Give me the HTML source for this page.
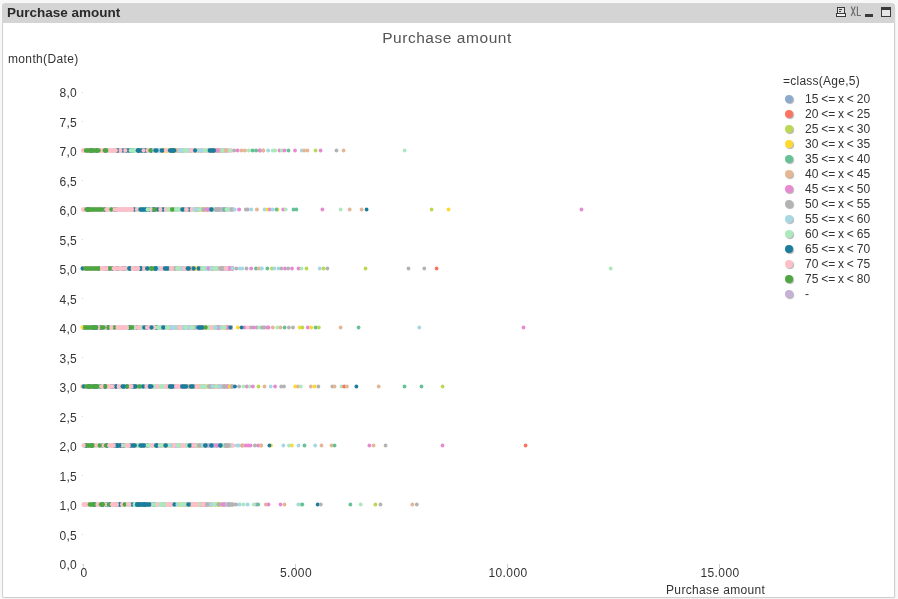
<!DOCTYPE html>
<html><head><meta charset="utf-8"><title>Purchase amount</title>
<style>
html,body{margin:0;padding:0;}
body{width:898px;height:599px;overflow:hidden;background:#f8f8f8;font-family:"Liberation Sans",sans-serif;position:relative;color:#333;}
#frame{position:absolute;left:2px;top:3px;width:891px;height:594px;background:#fff;border:1px solid #d0d0d0;border-top:none;border-radius:4px 4px 2px 2px;box-shadow:1px 1px 1px rgba(0,0,0,0.03);}
#cap{position:absolute;left:2px;top:3px;width:893px;height:20px;background:#d4d4d4;border-radius:4px 4px 0 0;}
#cap .t{position:absolute;left:4.8px;top:1.6px;font-size:13.5px;font-weight:bold;color:#2a2a2a;line-height:16px;white-space:nowrap;}
.lbl,#ttl,#cap .t{will-change:transform;}
.lbl{position:absolute;font-size:12px;line-height:15px;white-space:nowrap;color:#333;}
.yl{width:40px;text-align:right;left:37px;letter-spacing:0.3px;}
.xl{width:60px;text-align:center;letter-spacing:0.4px;}
.tk{position:absolute;width:1px;height:1px;background:#d4d4d4;}
.tkx{position:absolute;width:1px;height:4px;background:#d0d0d0;}
.ld{position:absolute;left:785.3px;width:8px;height:8px;border-radius:50%;box-shadow:1px 1px 1px rgba(0,0,0,0.3);}
#ttl{position:absolute;left:0;width:894px;top:28.5px;text-align:center;font-size:15.5px;letter-spacing:0.55px;line-height:18px;color:#555;}
svg{position:absolute;left:0;top:0;}
</style></head><body>
<div id="frame"></div>
<div id="cap"><div class="t">Purchase amount</div>
<svg width="893" height="20" viewBox="2 3 893 20">
<rect x="837.5" y="7.5" width="7" height="6" fill="#e2e2e2" stroke="#3a3a3a" stroke-width="1"/>
<rect x="839" y="9" width="3" height="1" fill="#3a3a3a"/><rect x="839" y="11" width="2" height="1" fill="#3a3a3a"/>
<rect x="836.5" y="13.5" width="9" height="3" fill="#f2f2f2" stroke="#3a3a3a" stroke-width="1"/>
<path d="M851.2 6.6 L855.2 16 M855.2 6.6 L851.2 16 M857.4 6.5 V15.5 H861" fill="none" stroke="#6e6e6e" stroke-width="1.15"/>
<rect x="865" y="14" width="8" height="3" fill="#3a3a3a"/>
<rect x="881.5" y="7.5" width="9" height="9" fill="#e6e6e6" stroke="#3a3a3a" stroke-width="1"/>
<rect x="881" y="7" width="10" height="3" fill="#3a3a3a"/>
</svg>
</div>
<div id="ttl">Purchase amount</div>
<div class="lbl" style="left:8px;top:52px;letter-spacing:0.35px;">month(Date)</div>
<div class="lbl" style="left:783px;top:74px;letter-spacing:0.25px;">=class(Age,5)</div>
<div class="lbl" style="left:665.5px;top:582.5px;letter-spacing:0.35px;">Purchase amount</div>
<div class="lbl yl" style="top:558.0px;">0,0</div><div class="tk" style="left:82px;top:564px;"></div><div class="lbl yl" style="top:528.5px;">0,5</div><div class="tk" style="left:82px;top:534px;"></div><div class="lbl yl" style="top:499.0px;">1,0</div><div class="tk" style="left:82px;top:505px;"></div><div class="lbl yl" style="top:469.5px;">1,5</div><div class="tk" style="left:82px;top:475px;"></div><div class="lbl yl" style="top:440.0px;">2,0</div><div class="tk" style="left:82px;top:446px;"></div><div class="lbl yl" style="top:410.5px;">2,5</div><div class="tk" style="left:82px;top:416px;"></div><div class="lbl yl" style="top:381.0px;">3,0</div><div class="tk" style="left:82px;top:387px;"></div><div class="lbl yl" style="top:351.5px;">3,5</div><div class="tk" style="left:82px;top:357px;"></div><div class="lbl yl" style="top:322.0px;">4,0</div><div class="tk" style="left:82px;top:328px;"></div><div class="lbl yl" style="top:292.5px;">4,5</div><div class="tk" style="left:82px;top:298px;"></div><div class="lbl yl" style="top:263.0px;">5,0</div><div class="tk" style="left:82px;top:269px;"></div><div class="lbl yl" style="top:233.5px;">5,5</div><div class="tk" style="left:82px;top:239px;"></div><div class="lbl yl" style="top:204.0px;">6,0</div><div class="tk" style="left:82px;top:210px;"></div><div class="lbl yl" style="top:174.5px;">6,5</div><div class="tk" style="left:82px;top:180px;"></div><div class="lbl yl" style="top:145.0px;">7,0</div><div class="tk" style="left:82px;top:151px;"></div><div class="lbl yl" style="top:115.5px;">7,5</div><div class="tk" style="left:82px;top:121px;"></div><div class="lbl yl" style="top:86.0px;">8,0</div><div class="tk" style="left:82px;top:92px;"></div>
<div class="lbl xl" style="left:53.5px;top:566px;">0</div><div class="tkx" style="left:83px;top:564px;"></div><div class="lbl xl" style="left:265.5px;top:566px;">5.000</div><div class="tkx" style="left:295px;top:564px;"></div><div class="lbl xl" style="left:477.5px;top:566px;">10.000</div><div class="tkx" style="left:507px;top:564px;"></div><div class="lbl xl" style="left:689.5px;top:566px;">15.000</div><div class="tkx" style="left:719px;top:564px;"></div>
<div class="ld" style="top:95.3px;background:#8DAACB;"></div><div class="lbl" style="left:805px;top:92.0px;word-spacing:-0.5px;">15 <= x < 20</div><div class="ld" style="top:110.3px;background:#FC7362;"></div><div class="lbl" style="left:805px;top:107.0px;word-spacing:-0.5px;">20 <= x < 25</div><div class="ld" style="top:125.3px;background:#BBD854;"></div><div class="lbl" style="left:805px;top:122.0px;word-spacing:-0.5px;">25 <= x < 30</div><div class="ld" style="top:140.3px;background:#FFD92F;"></div><div class="lbl" style="left:805px;top:137.0px;word-spacing:-0.5px;">30 <= x < 35</div><div class="ld" style="top:155.3px;background:#66C296;"></div><div class="lbl" style="left:805px;top:152.0px;word-spacing:-0.5px;">35 <= x < 40</div><div class="ld" style="top:170.3px;background:#E5B694;"></div><div class="lbl" style="left:805px;top:167.0px;word-spacing:-0.5px;">40 <= x < 45</div><div class="ld" style="top:185.3px;background:#E78AD2;"></div><div class="lbl" style="left:805px;top:182.0px;word-spacing:-0.5px;">45 <= x < 50</div><div class="ld" style="top:200.3px;background:#B3B3B3;"></div><div class="lbl" style="left:805px;top:197.0px;word-spacing:-0.5px;">50 <= x < 55</div><div class="ld" style="top:215.3px;background:#A6D8E3;"></div><div class="lbl" style="left:805px;top:212.0px;word-spacing:-0.5px;">55 <= x < 60</div><div class="ld" style="top:230.3px;background:#ABE9BC;"></div><div class="lbl" style="left:805px;top:227.0px;word-spacing:-0.5px;">60 <= x < 65</div><div class="ld" style="top:245.3px;background:#1B7D9C;"></div><div class="lbl" style="left:805px;top:242.0px;word-spacing:-0.5px;">65 <= x < 70</div><div class="ld" style="top:260.3px;background:#FFBFC9;"></div><div class="lbl" style="left:805px;top:257.0px;word-spacing:-0.5px;">70 <= x < 75</div><div class="ld" style="top:275.3px;background:#4DA741;"></div><div class="lbl" style="left:805px;top:272.0px;word-spacing:-0.5px;">75 <= x < 80</div><div class="ld" style="top:290.3px;background:#C5B2D6;"></div><div class="lbl" style="left:805px;top:287.0px;word-spacing:-0.5px;">-</div>
<svg id="ch" width="898" height="599" viewBox="0 0 898 599">
<g>
<rect x="82.6" y="148.20" width="2.3" height="4.6" fill="#FFBFC9"/>
<rect x="84.6" y="148.20" width="2.3" height="4.6" fill="#FFBFC9"/>
<rect x="86.6" y="148.20" width="1.8" height="4.6" fill="#FFBFC9"/>
<rect x="88.1" y="148.20" width="2.3" height="4.6" fill="#FFBFC9"/>
<rect x="90.1" y="148.20" width="2.8" height="4.6" fill="#1B7D9C"/>
<rect x="92.6" y="148.20" width="1.8" height="4.6" fill="#FFBFC9"/>
<rect x="94.1" y="148.20" width="2.3" height="4.6" fill="#FFBFC9"/>
<rect x="96.1" y="148.20" width="1.8" height="4.6" fill="#1B7D9C"/>
<rect x="97.6" y="148.20" width="1.8" height="4.6" fill="#FFBFC9"/>
<rect x="99.1" y="148.20" width="1.8" height="4.6" fill="#FFBFC9"/>
<rect x="100.6" y="148.20" width="1.8" height="4.6" fill="#FFBFC9"/>
<rect x="102.1" y="148.20" width="2.8" height="4.6" fill="#FFBFC9"/>
<rect x="104.6" y="148.20" width="1.8" height="4.6" fill="#1B7D9C"/>
<rect x="106.1" y="148.20" width="1.8" height="4.6" fill="#FFBFC9"/>
<rect x="107.6" y="148.20" width="2.3" height="4.6" fill="#FFBFC9"/>
<rect x="109.6" y="148.20" width="1.8" height="4.6" fill="#FFBFC9"/>
<rect x="111.1" y="148.20" width="2.8" height="4.6" fill="#ABE9BC"/>
<rect x="113.6" y="148.20" width="2.8" height="4.6" fill="#FFBFC9"/>
<rect x="116.1" y="148.20" width="1.8" height="4.6" fill="#1B7D9C"/>
<rect x="117.6" y="148.20" width="2.3" height="4.6" fill="#FFBFC9"/>
<rect x="119.6" y="148.20" width="2.8" height="4.6" fill="#FFBFC9"/>
<rect x="122.1" y="148.20" width="2.8" height="4.6" fill="#FFBFC9"/>
<rect x="124.6" y="148.20" width="2.8" height="4.6" fill="#1B7D9C"/>
<rect x="127.1" y="148.20" width="2.3" height="4.6" fill="#FFBFC9"/>
<rect x="129.1" y="148.20" width="2.3" height="4.6" fill="#1B7D9C"/>
<rect x="131.1" y="148.20" width="2.8" height="4.6" fill="#1B7D9C"/>
<rect x="133.6" y="148.20" width="2.3" height="4.6" fill="#ABE9BC"/>
<rect x="135.6" y="148.20" width="1.8" height="4.6" fill="#FFBFC9"/>
<rect x="137.1" y="148.20" width="2.8" height="4.6" fill="#1B7D9C"/>
<rect x="139.6" y="148.20" width="1.8" height="4.6" fill="#ABE9BC"/>
<rect x="141.1" y="148.20" width="2.8" height="4.6" fill="#1B7D9C"/>
<rect x="143.6" y="148.20" width="2.3" height="4.6" fill="#1B7D9C"/>
<rect x="145.6" y="148.20" width="2.3" height="4.6" fill="#FFBFC9"/>
<rect x="147.6" y="148.20" width="1.8" height="4.6" fill="#FFBFC9"/>
<rect x="149.1" y="148.20" width="1.8" height="4.6" fill="#A6D8E3"/>
<rect x="150.6" y="148.20" width="1.8" height="4.6" fill="#1B7D9C"/>
<rect x="152.1" y="148.20" width="2.3" height="4.6" fill="#FFBFC9"/>
<rect x="154.1" y="148.20" width="2.8" height="4.6" fill="#FFBFC9"/>
<rect x="156.6" y="148.20" width="2.8" height="4.6" fill="#A6D8E3"/>
<rect x="159.1" y="148.20" width="2.3" height="4.6" fill="#C5B2D6"/>
<rect x="161.1" y="148.20" width="2.8" height="4.6" fill="#FFD92F"/>
<rect x="163.6" y="148.20" width="2.8" height="4.6" fill="#FFD92F"/>
<rect x="166.1" y="148.20" width="1.8" height="4.6" fill="#ABE9BC"/>
<rect x="167.6" y="148.20" width="2.3" height="4.6" fill="#FFD92F"/>
<rect x="169.6" y="148.20" width="2.8" height="4.6" fill="#ABE9BC"/>
<rect x="172.1" y="148.20" width="1.8" height="4.6" fill="#E5B694"/>
<rect x="173.6" y="148.20" width="2.8" height="4.6" fill="#FFD92F"/>
<rect x="176.1" y="148.20" width="2.3" height="4.6" fill="#FFBFC9"/>
<rect x="178.1" y="148.20" width="2.8" height="4.6" fill="#C5B2D6"/>
<rect x="180.6" y="148.20" width="1.8" height="4.6" fill="#FFD92F"/>
<rect x="182.1" y="148.20" width="2.3" height="4.6" fill="#B3B3B3"/>
<rect x="184.1" y="148.20" width="2.8" height="4.6" fill="#ABE9BC"/>
<rect x="186.6" y="148.20" width="2.3" height="4.6" fill="#A6D8E3"/>
<rect x="188.6" y="148.20" width="1.8" height="4.6" fill="#E5B694"/>
<rect x="190.1" y="148.20" width="1.8" height="4.6" fill="#E78AD2"/>
<rect x="191.6" y="148.20" width="2.3" height="4.6" fill="#FFBFC9"/>
<rect x="193.6" y="148.20" width="2.3" height="4.6" fill="#ABE9BC"/>
<rect x="195.6" y="148.20" width="1.8" height="4.6" fill="#FFD92F"/>
<rect x="197.1" y="148.20" width="2.3" height="4.6" fill="#E5B694"/>
<rect x="199.1" y="148.20" width="1.8" height="4.6" fill="#FFBFC9"/>
<rect x="200.6" y="148.20" width="2.8" height="4.6" fill="#E5B694"/>
<rect x="203.1" y="148.20" width="2.8" height="4.6" fill="#FFBFC9"/>
<rect x="205.6" y="148.20" width="2.3" height="4.6" fill="#FFBFC9"/>
<rect x="207.6" y="148.20" width="1.8" height="4.6" fill="#B3B3B3"/>
<rect x="209.1" y="148.20" width="1.8" height="4.6" fill="#B3B3B3"/>
<rect x="210.6" y="148.20" width="1.8" height="4.6" fill="#E78AD2"/>
<rect x="212.1" y="148.20" width="2.8" height="4.6" fill="#E78AD2"/>
<rect x="214.6" y="148.20" width="1.8" height="4.6" fill="#FFD92F"/>
<rect x="216.1" y="148.20" width="2.8" height="4.6" fill="#B3B3B3"/>
<rect x="218.6" y="148.20" width="2.3" height="4.6" fill="#E5B694"/>
<rect x="220.6" y="148.20" width="1.8" height="4.6" fill="#B3B3B3"/>
<rect x="222.1" y="148.20" width="2.3" height="4.6" fill="#C5B2D6"/>
<rect x="224.1" y="148.20" width="2.8" height="4.6" fill="#C5B2D6"/>
<rect x="226.6" y="148.20" width="1.8" height="4.6" fill="#A6D8E3"/>
<rect x="228.1" y="148.20" width="2.3" height="4.6" fill="#FFBFC9"/>
<rect x="230.1" y="148.20" width="2.3" height="4.6" fill="#FFBFC9"/>
<rect x="80.8" y="148.35" width="4.0" height="4.3" rx="2.1" ry="2.15" fill="#FFBFC9"/>
<rect x="99.5" y="148.35" width="4.0" height="4.3" rx="2.1" ry="2.15" fill="#FFBFC9"/>
<rect x="116.2" y="148.35" width="4.0" height="4.3" rx="2.1" ry="2.15" fill="#1B7D9C"/>
<rect x="120.8" y="148.35" width="4.0" height="4.3" rx="2.1" ry="2.15" fill="#1B7D9C"/>
<rect x="126.2" y="148.35" width="4.0" height="4.3" rx="2.1" ry="2.15" fill="#1B7D9C"/>
<rect x="143.8" y="148.35" width="4.0" height="4.3" rx="2.1" ry="2.15" fill="#1B7D9C"/>
<rect x="145.6" y="148.35" width="4.0" height="4.3" rx="2.1" ry="2.15" fill="#FFBFC9"/>
<rect x="151.0" y="148.35" width="4.0" height="4.3" rx="2.1" ry="2.15" fill="#A6D8E3"/>
<rect x="157.1" y="148.35" width="4.0" height="4.3" rx="2.1" ry="2.15" fill="#A6D8E3"/>
<rect x="175.0" y="148.35" width="4.0" height="4.3" rx="2.1" ry="2.15" fill="#ABE9BC"/>
<rect x="174.8" y="148.35" width="4.0" height="4.3" rx="2.1" ry="2.15" fill="#E5B694"/>
<rect x="186.8" y="148.35" width="4.0" height="4.3" rx="2.1" ry="2.15" fill="#A6D8E3"/>
<rect x="195.8" y="148.35" width="4.0" height="4.3" rx="2.1" ry="2.15" fill="#A6D8E3"/>
<rect x="83.7" y="148.35" width="17.0" height="4.3" rx="2.1" ry="2.15" fill="#4DA741"/>
<rect x="102.6" y="148.35" width="6.1" height="4.3" rx="2.1" ry="2.15" fill="#4DA741"/>
<rect x="108.2" y="148.35" width="9.7" height="4.3" rx="2.1" ry="2.15" fill="#FFBFC9"/>
<rect x="118.5" y="148.35" width="4.0" height="4.3" rx="2.1" ry="2.15" fill="#FFBFC9"/>
<rect x="123.2" y="148.35" width="4.2" height="4.3" rx="2.1" ry="2.15" fill="#FFBFC9"/>
<rect x="128.6" y="148.35" width="7.8" height="4.3" rx="2.1" ry="2.15" fill="#ABE9BC"/>
<rect x="135.6" y="148.35" width="6.8" height="4.3" rx="2.1" ry="2.15" fill="#1B7D9C"/>
<rect x="141.5" y="148.35" width="4.0" height="4.3" rx="2.1" ry="2.15" fill="#FFBFC9"/>
<rect x="148.3" y="148.35" width="4.4" height="4.3" rx="2.1" ry="2.15" fill="#4DA741"/>
<rect x="153.3" y="148.35" width="5.3" height="4.3" rx="2.1" ry="2.15" fill="#1B7D9C"/>
<rect x="159.6" y="148.35" width="5.1" height="4.3" rx="2.1" ry="2.15" fill="#1B7D9C"/>
<rect x="163.9" y="148.35" width="4.7" height="4.3" rx="2.1" ry="2.15" fill="#FFBFC9"/>
<rect x="167.8" y="148.35" width="8.6" height="4.3" rx="2.1" ry="2.15" fill="#1B7D9C"/>
<rect x="169.6" y="148.35" width="6.3" height="4.3" rx="2.1" ry="2.15" fill="#1B7D9C"/>
<rect x="177.6" y="148.35" width="5.8" height="4.3" rx="2.1" ry="2.15" fill="#A6D8E3"/>
<rect x="182.6" y="148.35" width="5.8" height="4.3" rx="2.1" ry="2.15" fill="#ABE9BC"/>
<rect x="189.1" y="148.35" width="4.7" height="4.3" rx="2.1" ry="2.15" fill="#FFBFC9"/>
<rect x="193.0" y="148.35" width="4.1" height="4.3" rx="2.1" ry="2.15" fill="#1B7D9C"/>
<rect x="198.6" y="148.35" width="5.2" height="4.3" rx="2.1" ry="2.15" fill="#A6D8E3"/>
<rect x="203.0" y="148.35" width="5.4" height="4.3" rx="2.1" ry="2.15" fill="#ABE9BC"/>
<rect x="207.6" y="148.35" width="8.8" height="4.3" rx="2.1" ry="2.15" fill="#1B7D9C"/>
<rect x="215.6" y="148.35" width="4.1" height="4.3" rx="2.1" ry="2.15" fill="#E78AD2"/>
<rect x="220.3" y="148.35" width="4.6" height="4.3" rx="2.1" ry="2.15" fill="#ABE9BC"/>
<rect x="224.1" y="148.35" width="4.3" height="4.3" rx="2.1" ry="2.15" fill="#E5B694"/>
<circle cx="230.2" cy="150.5" r="2.0" fill="#ABE9BC"/>
<circle cx="234.1" cy="150.5" r="2.0" fill="#B3B3B3"/>
<circle cx="237.6" cy="150.5" r="2.0" fill="#E78AD2"/>
<circle cx="241.5" cy="150.5" r="2.0" fill="#E5B694"/>
<circle cx="244.9" cy="150.5" r="2.0" fill="#E5B694"/>
<circle cx="248.8" cy="150.5" r="2.0" fill="#ABE9BC"/>
<circle cx="252.6" cy="150.5" r="2.0" fill="#66C296"/>
<circle cx="256.1" cy="150.5" r="2.0" fill="#66C296"/>
<circle cx="259.6" cy="150.5" r="2.0" fill="#E78AD2"/>
<circle cx="263.2" cy="150.5" r="2.0" fill="#E5B694"/>
<circle cx="268.2" cy="150.5" r="2.0" fill="#A6D8E3"/>
<circle cx="272.9" cy="150.5" r="2.0" fill="#ABE9BC"/>
<circle cx="275.1" cy="150.5" r="2.0" fill="#ABE9BC"/>
<circle cx="260.0" cy="150.5" r="1.9" fill="#E78AD2"/>
<circle cx="263.2" cy="150.5" r="1.9" fill="#E5B694"/>
<circle cx="279.5" cy="150.5" r="1.9" fill="#E78AD2"/>
<circle cx="281.7" cy="150.5" r="1.9" fill="#ABE9BC"/>
<circle cx="284.5" cy="150.5" r="1.9" fill="#E78AD2"/>
<circle cx="288.5" cy="150.5" r="1.9" fill="#66C296"/>
<circle cx="295.0" cy="150.5" r="1.9" fill="#E78AD2"/>
<circle cx="301.7" cy="150.5" r="1.9" fill="#A6D8E3"/>
<circle cx="304.2" cy="150.5" r="1.9" fill="#E5B694"/>
<circle cx="307.4" cy="150.5" r="1.9" fill="#E5B694"/>
<circle cx="315.6" cy="150.5" r="1.9" fill="#BBD854"/>
<circle cx="320.6" cy="150.5" r="1.9" fill="#E78AD2"/>
<circle cx="336.5" cy="150.5" r="1.9" fill="#B3B3B3"/>
<circle cx="343.6" cy="150.5" r="1.9" fill="#E5B694"/>
<circle cx="404.6" cy="150.5" r="1.9" fill="#ABE9BC"/>
</g>
<g>
<rect x="82.6" y="207.20" width="2.3" height="4.6" fill="#FFBFC9"/>
<rect x="84.6" y="207.20" width="2.3" height="4.6" fill="#FFBFC9"/>
<rect x="86.6" y="207.20" width="1.8" height="4.6" fill="#1B7D9C"/>
<rect x="88.1" y="207.20" width="1.8" height="4.6" fill="#1B7D9C"/>
<rect x="89.6" y="207.20" width="2.3" height="4.6" fill="#FFBFC9"/>
<rect x="91.6" y="207.20" width="1.8" height="4.6" fill="#A6D8E3"/>
<rect x="93.1" y="207.20" width="2.8" height="4.6" fill="#FFBFC9"/>
<rect x="95.6" y="207.20" width="1.8" height="4.6" fill="#FFBFC9"/>
<rect x="97.1" y="207.20" width="2.8" height="4.6" fill="#FFBFC9"/>
<rect x="99.6" y="207.20" width="2.8" height="4.6" fill="#FFBFC9"/>
<rect x="102.1" y="207.20" width="2.3" height="4.6" fill="#FFBFC9"/>
<rect x="104.1" y="207.20" width="1.8" height="4.6" fill="#1B7D9C"/>
<rect x="105.6" y="207.20" width="2.8" height="4.6" fill="#FFBFC9"/>
<rect x="108.1" y="207.20" width="1.8" height="4.6" fill="#ABE9BC"/>
<rect x="109.6" y="207.20" width="2.3" height="4.6" fill="#A6D8E3"/>
<rect x="111.6" y="207.20" width="2.3" height="4.6" fill="#FFBFC9"/>
<rect x="113.6" y="207.20" width="1.8" height="4.6" fill="#1B7D9C"/>
<rect x="115.1" y="207.20" width="2.3" height="4.6" fill="#1B7D9C"/>
<rect x="117.1" y="207.20" width="2.3" height="4.6" fill="#ABE9BC"/>
<rect x="119.1" y="207.20" width="1.8" height="4.6" fill="#FFBFC9"/>
<rect x="120.6" y="207.20" width="1.8" height="4.6" fill="#A6D8E3"/>
<rect x="122.1" y="207.20" width="2.8" height="4.6" fill="#ABE9BC"/>
<rect x="124.6" y="207.20" width="2.3" height="4.6" fill="#FFBFC9"/>
<rect x="126.6" y="207.20" width="2.8" height="4.6" fill="#FFBFC9"/>
<rect x="129.1" y="207.20" width="1.8" height="4.6" fill="#A6D8E3"/>
<rect x="130.6" y="207.20" width="1.8" height="4.6" fill="#FFBFC9"/>
<rect x="132.1" y="207.20" width="2.8" height="4.6" fill="#ABE9BC"/>
<rect x="134.6" y="207.20" width="2.8" height="4.6" fill="#FFBFC9"/>
<rect x="137.1" y="207.20" width="2.8" height="4.6" fill="#ABE9BC"/>
<rect x="139.6" y="207.20" width="2.8" height="4.6" fill="#A6D8E3"/>
<rect x="142.1" y="207.20" width="1.8" height="4.6" fill="#A6D8E3"/>
<rect x="143.6" y="207.20" width="1.8" height="4.6" fill="#A6D8E3"/>
<rect x="145.1" y="207.20" width="2.8" height="4.6" fill="#1B7D9C"/>
<rect x="147.6" y="207.20" width="2.8" height="4.6" fill="#1B7D9C"/>
<rect x="150.1" y="207.20" width="1.8" height="4.6" fill="#FFBFC9"/>
<rect x="151.6" y="207.20" width="2.8" height="4.6" fill="#1B7D9C"/>
<rect x="154.1" y="207.20" width="1.8" height="4.6" fill="#1B7D9C"/>
<rect x="155.6" y="207.20" width="2.3" height="4.6" fill="#FFBFC9"/>
<rect x="157.6" y="207.20" width="1.8" height="4.6" fill="#E5B694"/>
<rect x="159.1" y="207.20" width="2.3" height="4.6" fill="#E5B694"/>
<rect x="161.1" y="207.20" width="1.8" height="4.6" fill="#C5B2D6"/>
<rect x="162.6" y="207.20" width="2.3" height="4.6" fill="#C5B2D6"/>
<rect x="164.6" y="207.20" width="2.3" height="4.6" fill="#ABE9BC"/>
<rect x="166.6" y="207.20" width="1.8" height="4.6" fill="#ABE9BC"/>
<rect x="168.1" y="207.20" width="1.8" height="4.6" fill="#FFD92F"/>
<rect x="169.6" y="207.20" width="1.8" height="4.6" fill="#C5B2D6"/>
<rect x="171.1" y="207.20" width="1.8" height="4.6" fill="#FFD92F"/>
<rect x="172.6" y="207.20" width="2.8" height="4.6" fill="#A6D8E3"/>
<rect x="175.1" y="207.20" width="2.3" height="4.6" fill="#C5B2D6"/>
<rect x="177.1" y="207.20" width="2.8" height="4.6" fill="#ABE9BC"/>
<rect x="179.6" y="207.20" width="2.8" height="4.6" fill="#ABE9BC"/>
<rect x="182.1" y="207.20" width="2.3" height="4.6" fill="#E78AD2"/>
<rect x="184.1" y="207.20" width="2.3" height="4.6" fill="#B3B3B3"/>
<rect x="186.1" y="207.20" width="2.3" height="4.6" fill="#C5B2D6"/>
<rect x="188.1" y="207.20" width="1.8" height="4.6" fill="#FFBFC9"/>
<rect x="189.6" y="207.20" width="2.3" height="4.6" fill="#FFBFC9"/>
<rect x="191.6" y="207.20" width="2.8" height="4.6" fill="#ABE9BC"/>
<rect x="194.1" y="207.20" width="2.8" height="4.6" fill="#B3B3B3"/>
<rect x="196.6" y="207.20" width="1.8" height="4.6" fill="#B3B3B3"/>
<rect x="198.1" y="207.20" width="1.8" height="4.6" fill="#B3B3B3"/>
<rect x="199.6" y="207.20" width="2.8" height="4.6" fill="#FFD92F"/>
<rect x="202.1" y="207.20" width="2.8" height="4.6" fill="#B3B3B3"/>
<rect x="204.6" y="207.20" width="2.8" height="4.6" fill="#FFD92F"/>
<rect x="207.1" y="207.20" width="2.8" height="4.6" fill="#C5B2D6"/>
<rect x="209.6" y="207.20" width="1.8" height="4.6" fill="#B3B3B3"/>
<rect x="211.1" y="207.20" width="1.8" height="4.6" fill="#A6D8E3"/>
<rect x="212.6" y="207.20" width="2.8" height="4.6" fill="#ABE9BC"/>
<rect x="215.1" y="207.20" width="2.8" height="4.6" fill="#B3B3B3"/>
<rect x="217.6" y="207.20" width="2.3" height="4.6" fill="#E78AD2"/>
<rect x="219.6" y="207.20" width="1.8" height="4.6" fill="#A6D8E3"/>
<rect x="221.1" y="207.20" width="2.3" height="4.6" fill="#E78AD2"/>
<rect x="223.1" y="207.20" width="2.3" height="4.6" fill="#E78AD2"/>
<rect x="225.1" y="207.20" width="2.8" height="4.6" fill="#C5B2D6"/>
<rect x="227.6" y="207.20" width="2.3" height="4.6" fill="#FFBFC9"/>
<rect x="229.6" y="207.20" width="1.8" height="4.6" fill="#A6D8E3"/>
<rect x="231.1" y="207.20" width="2.8" height="4.6" fill="#C5B2D6"/>
<rect x="132.5" y="207.35" width="4.0" height="4.3" rx="2.1" ry="2.15" fill="#1B7D9C"/>
<rect x="149.2" y="207.35" width="4.0" height="4.3" rx="2.1" ry="2.15" fill="#FFBFC9"/>
<rect x="155.6" y="207.35" width="4.0" height="4.3" rx="2.1" ry="2.15" fill="#1B7D9C"/>
<rect x="161.2" y="207.35" width="4.0" height="4.3" rx="2.1" ry="2.15" fill="#1B7D9C"/>
<rect x="163.7" y="207.35" width="4.0" height="4.3" rx="2.1" ry="2.15" fill="#FFBFC9"/>
<rect x="187.2" y="207.35" width="4.0" height="4.3" rx="2.1" ry="2.15" fill="#1B7D9C"/>
<rect x="220.1" y="207.35" width="4.0" height="4.3" rx="2.1" ry="2.15" fill="#C5B2D6"/>
<rect x="222.3" y="207.35" width="4.0" height="4.3" rx="2.1" ry="2.15" fill="#66C296"/>
<circle cx="231.0" cy="209.5" r="2.0" fill="#B3B3B3"/>
<rect x="80.9" y="207.35" width="4.2" height="4.3" rx="2.1" ry="2.15" fill="#FFBFC9"/>
<rect x="84.3" y="207.35" width="20.8" height="4.3" rx="2.1" ry="2.15" fill="#4DA741"/>
<rect x="104.3" y="207.35" width="5.8" height="4.3" rx="2.1" ry="2.15" fill="#FFBFC9"/>
<rect x="109.3" y="207.35" width="4.1" height="4.3" rx="2.1" ry="2.15" fill="#4DA741"/>
<rect x="112.6" y="207.35" width="21.5" height="4.3" rx="2.1" ry="2.15" fill="#FFBFC9"/>
<rect x="134.8" y="207.35" width="4.0" height="4.3" rx="2.1" ry="2.15" fill="#FFBFC9"/>
<rect x="138.3" y="207.35" width="8.1" height="4.3" rx="2.1" ry="2.15" fill="#1B7D9C"/>
<rect x="145.6" y="207.35" width="4.6" height="4.3" rx="2.1" ry="2.15" fill="#ABE9BC"/>
<rect x="152.2" y="207.35" width="4.7" height="4.3" rx="2.1" ry="2.15" fill="#4DA741"/>
<rect x="158.3" y="207.35" width="4.1" height="4.3" rx="2.1" ry="2.15" fill="#FFBFC9"/>
<rect x="166.6" y="207.35" width="4.2" height="4.3" rx="2.1" ry="2.15" fill="#ABE9BC"/>
<rect x="170.0" y="207.35" width="4.9" height="4.3" rx="2.1" ry="2.15" fill="#4DA741"/>
<rect x="174.1" y="207.35" width="6.9" height="4.3" rx="2.1" ry="2.15" fill="#ABE9BC"/>
<rect x="180.2" y="207.35" width="4.7" height="4.3" rx="2.1" ry="2.15" fill="#1B7D9C"/>
<rect x="184.1" y="207.35" width="4.7" height="4.3" rx="2.1" ry="2.15" fill="#FFBFC9"/>
<rect x="189.6" y="207.35" width="4.2" height="4.3" rx="2.1" ry="2.15" fill="#FFBFC9"/>
<rect x="193.0" y="207.35" width="5.2" height="4.3" rx="2.1" ry="2.15" fill="#A6D8E3"/>
<rect x="197.4" y="207.35" width="4.7" height="4.3" rx="2.1" ry="2.15" fill="#ABE9BC"/>
<rect x="201.3" y="207.35" width="4.1" height="4.3" rx="2.1" ry="2.15" fill="#B3B3B3"/>
<rect x="204.6" y="207.35" width="4.8" height="4.3" rx="2.1" ry="2.15" fill="#E78AD2"/>
<rect x="209.1" y="207.35" width="4.7" height="4.3" rx="2.1" ry="2.15" fill="#1B7D9C"/>
<rect x="213.6" y="207.35" width="7.5" height="4.3" rx="2.1" ry="2.15" fill="#B3B3B3"/>
<rect x="224.6" y="207.35" width="5.4" height="4.3" rx="2.1" ry="2.15" fill="#ABE9BC"/>
<circle cx="234.6" cy="209.5" r="2.0" fill="#A6D8E3"/>
<circle cx="239.1" cy="209.5" r="2.0" fill="#E78AD2"/>
<circle cx="245.9" cy="209.5" r="2.0" fill="#B3B3B3"/>
<circle cx="247.7" cy="209.5" r="2.0" fill="#B3B3B3"/>
<circle cx="251.3" cy="209.5" r="2.0" fill="#A6D8E3"/>
<circle cx="256.9" cy="209.5" r="2.0" fill="#E5B694"/>
<circle cx="264.5" cy="209.5" r="1.9" fill="#A6D8E3"/>
<circle cx="267.5" cy="209.5" r="1.9" fill="#FFD92F"/>
<circle cx="269.8" cy="209.5" r="1.9" fill="#E78AD2"/>
<circle cx="272.5" cy="209.5" r="1.9" fill="#A6D8E3"/>
<circle cx="277.5" cy="209.5" r="1.9" fill="#FFD92F"/>
<circle cx="276.4" cy="209.5" r="1.9" fill="#66C296"/>
<circle cx="283.2" cy="209.5" r="1.9" fill="#E78AD2"/>
<circle cx="285.7" cy="209.5" r="1.9" fill="#ABE9BC"/>
<circle cx="293.5" cy="209.5" r="1.9" fill="#66C296"/>
<circle cx="296.4" cy="209.5" r="1.9" fill="#66C296"/>
<circle cx="322.4" cy="209.5" r="1.9" fill="#E78AD2"/>
<circle cx="340.6" cy="209.5" r="1.9" fill="#ABE9BC"/>
<circle cx="349.7" cy="209.5" r="1.9" fill="#E5B694"/>
<circle cx="361.6" cy="209.5" r="1.9" fill="#E5B694"/>
<circle cx="366.6" cy="209.5" r="1.9" fill="#1B7D9C"/>
<circle cx="431.6" cy="209.5" r="1.9" fill="#BBD854"/>
<circle cx="448.5" cy="209.5" r="1.9" fill="#FFD92F"/>
<circle cx="581.5" cy="209.5" r="1.9" fill="#E78AD2"/>
</g>
<g>
<rect x="82.6" y="266.20" width="2.3" height="4.6" fill="#FFBFC9"/>
<rect x="84.6" y="266.20" width="2.8" height="4.6" fill="#FFBFC9"/>
<rect x="87.1" y="266.20" width="2.8" height="4.6" fill="#FFBFC9"/>
<rect x="89.6" y="266.20" width="2.8" height="4.6" fill="#FFBFC9"/>
<rect x="92.1" y="266.20" width="2.3" height="4.6" fill="#FFBFC9"/>
<rect x="94.1" y="266.20" width="2.8" height="4.6" fill="#FFBFC9"/>
<rect x="96.6" y="266.20" width="1.8" height="4.6" fill="#FFBFC9"/>
<rect x="98.1" y="266.20" width="1.8" height="4.6" fill="#1B7D9C"/>
<rect x="99.6" y="266.20" width="2.8" height="4.6" fill="#FFBFC9"/>
<rect x="102.1" y="266.20" width="2.8" height="4.6" fill="#FFBFC9"/>
<rect x="104.6" y="266.20" width="2.3" height="4.6" fill="#1B7D9C"/>
<rect x="106.6" y="266.20" width="1.8" height="4.6" fill="#FFBFC9"/>
<rect x="108.1" y="266.20" width="1.8" height="4.6" fill="#1B7D9C"/>
<rect x="109.6" y="266.20" width="2.3" height="4.6" fill="#FFBFC9"/>
<rect x="111.6" y="266.20" width="1.8" height="4.6" fill="#1B7D9C"/>
<rect x="113.1" y="266.20" width="2.8" height="4.6" fill="#FFBFC9"/>
<rect x="115.6" y="266.20" width="1.8" height="4.6" fill="#1B7D9C"/>
<rect x="117.1" y="266.20" width="2.3" height="4.6" fill="#1B7D9C"/>
<rect x="119.1" y="266.20" width="2.8" height="4.6" fill="#ABE9BC"/>
<rect x="121.6" y="266.20" width="2.3" height="4.6" fill="#1B7D9C"/>
<rect x="123.6" y="266.20" width="2.8" height="4.6" fill="#1B7D9C"/>
<rect x="126.1" y="266.20" width="2.8" height="4.6" fill="#ABE9BC"/>
<rect x="128.6" y="266.20" width="2.8" height="4.6" fill="#1B7D9C"/>
<rect x="131.1" y="266.20" width="2.3" height="4.6" fill="#FFBFC9"/>
<rect x="133.1" y="266.20" width="2.3" height="4.6" fill="#FFBFC9"/>
<rect x="135.1" y="266.20" width="2.3" height="4.6" fill="#1B7D9C"/>
<rect x="137.1" y="266.20" width="2.3" height="4.6" fill="#FFBFC9"/>
<rect x="139.1" y="266.20" width="2.8" height="4.6" fill="#1B7D9C"/>
<rect x="141.6" y="266.20" width="2.3" height="4.6" fill="#FFBFC9"/>
<rect x="143.6" y="266.20" width="1.8" height="4.6" fill="#ABE9BC"/>
<rect x="145.1" y="266.20" width="1.8" height="4.6" fill="#FFBFC9"/>
<rect x="146.6" y="266.20" width="2.8" height="4.6" fill="#A6D8E3"/>
<rect x="149.1" y="266.20" width="1.8" height="4.6" fill="#ABE9BC"/>
<rect x="150.6" y="266.20" width="1.8" height="4.6" fill="#1B7D9C"/>
<rect x="152.1" y="266.20" width="1.8" height="4.6" fill="#FFBFC9"/>
<rect x="153.6" y="266.20" width="2.3" height="4.6" fill="#1B7D9C"/>
<rect x="155.6" y="266.20" width="1.8" height="4.6" fill="#1B7D9C"/>
<rect x="157.1" y="266.20" width="1.8" height="4.6" fill="#FFBFC9"/>
<rect x="158.6" y="266.20" width="2.8" height="4.6" fill="#FFBFC9"/>
<rect x="161.1" y="266.20" width="2.3" height="4.6" fill="#FFBFC9"/>
<rect x="163.1" y="266.20" width="1.8" height="4.6" fill="#C5B2D6"/>
<rect x="164.6" y="266.20" width="2.3" height="4.6" fill="#ABE9BC"/>
<rect x="166.6" y="266.20" width="2.8" height="4.6" fill="#C5B2D6"/>
<rect x="169.1" y="266.20" width="1.8" height="4.6" fill="#C5B2D6"/>
<rect x="170.6" y="266.20" width="2.8" height="4.6" fill="#FFD92F"/>
<rect x="173.1" y="266.20" width="2.3" height="4.6" fill="#A6D8E3"/>
<rect x="175.1" y="266.20" width="2.3" height="4.6" fill="#C5B2D6"/>
<rect x="177.1" y="266.20" width="2.8" height="4.6" fill="#E5B694"/>
<rect x="179.6" y="266.20" width="2.8" height="4.6" fill="#ABE9BC"/>
<rect x="182.1" y="266.20" width="1.8" height="4.6" fill="#E78AD2"/>
<rect x="183.6" y="266.20" width="1.8" height="4.6" fill="#ABE9BC"/>
<rect x="185.1" y="266.20" width="2.3" height="4.6" fill="#E5B694"/>
<rect x="187.1" y="266.20" width="1.8" height="4.6" fill="#B3B3B3"/>
<rect x="188.6" y="266.20" width="2.3" height="4.6" fill="#B3B3B3"/>
<rect x="190.6" y="266.20" width="2.3" height="4.6" fill="#E5B694"/>
<rect x="192.6" y="266.20" width="2.3" height="4.6" fill="#B3B3B3"/>
<rect x="194.6" y="266.20" width="2.8" height="4.6" fill="#FFD92F"/>
<rect x="197.1" y="266.20" width="2.8" height="4.6" fill="#C5B2D6"/>
<rect x="199.6" y="266.20" width="1.8" height="4.6" fill="#E5B694"/>
<rect x="201.1" y="266.20" width="1.8" height="4.6" fill="#B3B3B3"/>
<rect x="202.6" y="266.20" width="2.3" height="4.6" fill="#ABE9BC"/>
<rect x="204.6" y="266.20" width="2.3" height="4.6" fill="#A6D8E3"/>
<rect x="206.6" y="266.20" width="2.8" height="4.6" fill="#ABE9BC"/>
<rect x="209.1" y="266.20" width="2.3" height="4.6" fill="#ABE9BC"/>
<rect x="211.1" y="266.20" width="2.8" height="4.6" fill="#E78AD2"/>
<rect x="213.6" y="266.20" width="1.8" height="4.6" fill="#E5B694"/>
<rect x="215.1" y="266.20" width="1.8" height="4.6" fill="#FFD92F"/>
<rect x="216.6" y="266.20" width="1.8" height="4.6" fill="#C5B2D6"/>
<rect x="218.1" y="266.20" width="2.8" height="4.6" fill="#FFBFC9"/>
<rect x="220.6" y="266.20" width="2.3" height="4.6" fill="#B3B3B3"/>
<rect x="222.6" y="266.20" width="1.8" height="4.6" fill="#E78AD2"/>
<rect x="224.1" y="266.20" width="1.8" height="4.6" fill="#B3B3B3"/>
<rect x="225.6" y="266.20" width="2.3" height="4.6" fill="#A6D8E3"/>
<rect x="227.6" y="266.20" width="1.8" height="4.6" fill="#E78AD2"/>
<rect x="229.1" y="266.20" width="2.3" height="4.6" fill="#E5B694"/>
<rect x="231.1" y="266.20" width="2.8" height="4.6" fill="#E78AD2"/>
<rect x="80.5" y="266.35" width="4.0" height="4.3" rx="2.1" ry="2.15" fill="#1B7D9C"/>
<rect x="139.2" y="266.35" width="4.0" height="4.3" rx="2.1" ry="2.15" fill="#1B7D9C"/>
<rect x="142.0" y="266.35" width="4.0" height="4.3" rx="2.1" ry="2.15" fill="#FFBFC9"/>
<rect x="156.7" y="266.35" width="4.0" height="4.3" rx="2.1" ry="2.15" fill="#A6D8E3"/>
<rect x="172.6" y="266.35" width="4.0" height="4.3" rx="2.1" ry="2.15" fill="#B3B3B3"/>
<rect x="179.4" y="266.35" width="4.0" height="4.3" rx="2.1" ry="2.15" fill="#A6D8E3"/>
<rect x="204.2" y="266.35" width="4.0" height="4.3" rx="2.1" ry="2.15" fill="#A6D8E3"/>
<rect x="206.7" y="266.35" width="4.0" height="4.3" rx="2.1" ry="2.15" fill="#E78AD2"/>
<rect x="209.2" y="266.35" width="4.0" height="4.3" rx="2.1" ry="2.15" fill="#A6D8E3"/>
<rect x="227.3" y="266.35" width="4.0" height="4.3" rx="2.1" ry="2.15" fill="#E78AD2"/>
<circle cx="256.0" cy="268.5" r="2.0" fill="#66C296"/>
<circle cx="258.8" cy="268.5" r="2.0" fill="#E5B694"/>
<rect x="83.1" y="266.35" width="17.6" height="4.3" rx="2.1" ry="2.15" fill="#4DA741"/>
<rect x="99.9" y="266.35" width="9.1" height="4.3" rx="2.1" ry="2.15" fill="#FFBFC9"/>
<rect x="108.2" y="266.35" width="4.2" height="4.3" rx="2.1" ry="2.15" fill="#4DA741"/>
<rect x="111.6" y="266.35" width="16.3" height="4.3" rx="2.1" ry="2.15" fill="#FFBFC9"/>
<rect x="127.1" y="266.35" width="4.3" height="4.3" rx="2.1" ry="2.15" fill="#1B7D9C"/>
<rect x="130.6" y="266.35" width="9.6" height="4.3" rx="2.1" ry="2.15" fill="#FFBFC9"/>
<rect x="145.0" y="266.35" width="4.7" height="4.3" rx="2.1" ry="2.15" fill="#1B7D9C"/>
<rect x="148.9" y="266.35" width="5.8" height="4.3" rx="2.1" ry="2.15" fill="#4DA741"/>
<rect x="153.9" y="266.35" width="4.1" height="4.3" rx="2.1" ry="2.15" fill="#1B7D9C"/>
<rect x="159.4" y="266.35" width="4.2" height="4.3" rx="2.1" ry="2.15" fill="#FFBFC9"/>
<rect x="162.8" y="266.35" width="6.9" height="4.3" rx="2.1" ry="2.15" fill="#1B7D9C"/>
<rect x="168.9" y="266.35" width="5.0" height="4.3" rx="2.1" ry="2.15" fill="#FFBFC9"/>
<rect x="175.2" y="266.35" width="5.2" height="4.3" rx="2.1" ry="2.15" fill="#ABE9BC"/>
<rect x="182.4" y="266.35" width="4.0" height="4.3" rx="2.1" ry="2.15" fill="#FFBFC9"/>
<rect x="185.6" y="266.35" width="5.2" height="4.3" rx="2.1" ry="2.15" fill="#1B7D9C"/>
<rect x="191.6" y="266.35" width="4.2" height="4.3" rx="2.1" ry="2.15" fill="#1B7D9C"/>
<rect x="196.6" y="266.35" width="4.2" height="4.3" rx="2.1" ry="2.15" fill="#1B7D9C"/>
<rect x="200.2" y="266.35" width="5.2" height="4.3" rx="2.1" ry="2.15" fill="#ABE9BC"/>
<rect x="211.9" y="266.35" width="6.9" height="4.3" rx="2.1" ry="2.15" fill="#ABE9BC"/>
<rect x="218.0" y="266.35" width="6.4" height="4.3" rx="2.1" ry="2.15" fill="#B3B3B3"/>
<rect x="223.6" y="266.35" width="4.8" height="4.3" rx="2.1" ry="2.15" fill="#FFBFC9"/>
<circle cx="232.6" cy="268.5" r="2.0" fill="#A6D8E3"/>
<circle cx="236.3" cy="268.5" r="2.0" fill="#B3B3B3"/>
<circle cx="239.9" cy="268.5" r="2.0" fill="#A6D8E3"/>
<circle cx="242.1" cy="268.5" r="2.0" fill="#A6D8E3"/>
<circle cx="246.5" cy="268.5" r="2.0" fill="#B3B3B3"/>
<circle cx="251.2" cy="268.5" r="2.0" fill="#E78AD2"/>
<circle cx="261.9" cy="268.5" r="2.0" fill="#A6D8E3"/>
<circle cx="261.4" cy="268.5" r="1.9" fill="#A6D8E3"/>
<circle cx="267.3" cy="268.5" r="1.9" fill="#66C296"/>
<circle cx="272.0" cy="268.5" r="1.9" fill="#BBD854"/>
<circle cx="274.3" cy="268.5" r="1.9" fill="#A6D8E3"/>
<circle cx="278.4" cy="268.5" r="1.9" fill="#A6D8E3"/>
<circle cx="281.4" cy="268.5" r="1.9" fill="#B3B3B3"/>
<circle cx="285.0" cy="268.5" r="1.9" fill="#E78AD2"/>
<circle cx="288.2" cy="268.5" r="1.9" fill="#B3B3B3"/>
<circle cx="292.0" cy="268.5" r="1.9" fill="#E78AD2"/>
<circle cx="298.5" cy="268.5" r="1.9" fill="#E78AD2"/>
<circle cx="301.5" cy="268.5" r="1.9" fill="#ABE9BC"/>
<circle cx="306.5" cy="268.5" r="1.9" fill="#BBD854"/>
<circle cx="319.7" cy="268.5" r="1.9" fill="#A6D8E3"/>
<circle cx="323.5" cy="268.5" r="1.9" fill="#BBD854"/>
<circle cx="327.4" cy="268.5" r="1.9" fill="#B3B3B3"/>
<circle cx="365.5" cy="268.5" r="1.9" fill="#BBD854"/>
<circle cx="408.5" cy="268.5" r="1.9" fill="#B3B3B3"/>
<circle cx="424.3" cy="268.5" r="1.9" fill="#B3B3B3"/>
<circle cx="436.6" cy="268.5" r="1.9" fill="#FC7362"/>
<circle cx="610.7" cy="268.5" r="1.9" fill="#ABE9BC"/>
</g>
<g>
<rect x="82.6" y="325.20" width="2.3" height="4.6" fill="#1B7D9C"/>
<rect x="84.6" y="325.20" width="2.8" height="4.6" fill="#FFBFC9"/>
<rect x="87.1" y="325.20" width="2.3" height="4.6" fill="#A6D8E3"/>
<rect x="89.1" y="325.20" width="1.8" height="4.6" fill="#ABE9BC"/>
<rect x="90.6" y="325.20" width="1.8" height="4.6" fill="#FFBFC9"/>
<rect x="92.1" y="325.20" width="1.8" height="4.6" fill="#1B7D9C"/>
<rect x="93.6" y="325.20" width="2.8" height="4.6" fill="#1B7D9C"/>
<rect x="96.1" y="325.20" width="1.8" height="4.6" fill="#1B7D9C"/>
<rect x="97.6" y="325.20" width="1.8" height="4.6" fill="#FFBFC9"/>
<rect x="99.1" y="325.20" width="2.8" height="4.6" fill="#1B7D9C"/>
<rect x="101.6" y="325.20" width="2.8" height="4.6" fill="#FFBFC9"/>
<rect x="104.1" y="325.20" width="2.8" height="4.6" fill="#ABE9BC"/>
<rect x="106.6" y="325.20" width="2.8" height="4.6" fill="#1B7D9C"/>
<rect x="109.1" y="325.20" width="1.8" height="4.6" fill="#A6D8E3"/>
<rect x="110.6" y="325.20" width="1.8" height="4.6" fill="#FFBFC9"/>
<rect x="112.1" y="325.20" width="2.3" height="4.6" fill="#A6D8E3"/>
<rect x="114.1" y="325.20" width="1.8" height="4.6" fill="#FFBFC9"/>
<rect x="115.6" y="325.20" width="1.8" height="4.6" fill="#FFBFC9"/>
<rect x="117.1" y="325.20" width="2.8" height="4.6" fill="#ABE9BC"/>
<rect x="119.6" y="325.20" width="2.3" height="4.6" fill="#FFBFC9"/>
<rect x="121.6" y="325.20" width="1.8" height="4.6" fill="#FFBFC9"/>
<rect x="123.1" y="325.20" width="2.8" height="4.6" fill="#FFBFC9"/>
<rect x="125.6" y="325.20" width="2.8" height="4.6" fill="#ABE9BC"/>
<rect x="128.1" y="325.20" width="2.8" height="4.6" fill="#1B7D9C"/>
<rect x="130.6" y="325.20" width="2.8" height="4.6" fill="#ABE9BC"/>
<rect x="133.1" y="325.20" width="1.8" height="4.6" fill="#1B7D9C"/>
<rect x="134.6" y="325.20" width="1.8" height="4.6" fill="#FFBFC9"/>
<rect x="136.1" y="325.20" width="2.3" height="4.6" fill="#1B7D9C"/>
<rect x="138.1" y="325.20" width="1.8" height="4.6" fill="#ABE9BC"/>
<rect x="139.6" y="325.20" width="2.3" height="4.6" fill="#A6D8E3"/>
<rect x="141.6" y="325.20" width="2.8" height="4.6" fill="#A6D8E3"/>
<rect x="144.1" y="325.20" width="1.8" height="4.6" fill="#FFBFC9"/>
<rect x="145.6" y="325.20" width="2.3" height="4.6" fill="#1B7D9C"/>
<rect x="147.6" y="325.20" width="2.3" height="4.6" fill="#FFBFC9"/>
<rect x="149.6" y="325.20" width="1.8" height="4.6" fill="#A6D8E3"/>
<rect x="151.1" y="325.20" width="2.3" height="4.6" fill="#FFBFC9"/>
<rect x="153.1" y="325.20" width="2.3" height="4.6" fill="#ABE9BC"/>
<rect x="155.1" y="325.20" width="2.8" height="4.6" fill="#1B7D9C"/>
<rect x="157.6" y="325.20" width="1.8" height="4.6" fill="#A6D8E3"/>
<rect x="159.1" y="325.20" width="1.8" height="4.6" fill="#E5B694"/>
<rect x="160.6" y="325.20" width="1.8" height="4.6" fill="#B3B3B3"/>
<rect x="162.1" y="325.20" width="2.3" height="4.6" fill="#A6D8E3"/>
<rect x="164.1" y="325.20" width="2.3" height="4.6" fill="#A6D8E3"/>
<rect x="166.1" y="325.20" width="2.3" height="4.6" fill="#E5B694"/>
<rect x="168.1" y="325.20" width="2.8" height="4.6" fill="#E78AD2"/>
<rect x="170.6" y="325.20" width="1.8" height="4.6" fill="#B3B3B3"/>
<rect x="172.1" y="325.20" width="2.8" height="4.6" fill="#FFBFC9"/>
<rect x="174.6" y="325.20" width="2.3" height="4.6" fill="#FFD92F"/>
<rect x="176.6" y="325.20" width="1.8" height="4.6" fill="#E5B694"/>
<rect x="178.1" y="325.20" width="2.8" height="4.6" fill="#B3B3B3"/>
<rect x="180.6" y="325.20" width="1.8" height="4.6" fill="#FFBFC9"/>
<rect x="182.1" y="325.20" width="2.8" height="4.6" fill="#B3B3B3"/>
<rect x="184.6" y="325.20" width="2.8" height="4.6" fill="#A6D8E3"/>
<rect x="187.1" y="325.20" width="2.8" height="4.6" fill="#E78AD2"/>
<rect x="189.6" y="325.20" width="1.8" height="4.6" fill="#A6D8E3"/>
<rect x="191.1" y="325.20" width="1.8" height="4.6" fill="#B3B3B3"/>
<rect x="192.6" y="325.20" width="2.8" height="4.6" fill="#C5B2D6"/>
<rect x="195.1" y="325.20" width="1.8" height="4.6" fill="#FFBFC9"/>
<rect x="196.6" y="325.20" width="2.3" height="4.6" fill="#A6D8E3"/>
<rect x="198.6" y="325.20" width="2.8" height="4.6" fill="#A6D8E3"/>
<rect x="201.1" y="325.20" width="2.8" height="4.6" fill="#E78AD2"/>
<rect x="203.6" y="325.20" width="2.3" height="4.6" fill="#E5B694"/>
<rect x="205.6" y="325.20" width="1.8" height="4.6" fill="#FFD92F"/>
<rect x="207.1" y="325.20" width="1.8" height="4.6" fill="#ABE9BC"/>
<rect x="208.6" y="325.20" width="2.8" height="4.6" fill="#ABE9BC"/>
<rect x="211.1" y="325.20" width="2.8" height="4.6" fill="#FFD92F"/>
<rect x="213.6" y="325.20" width="2.3" height="4.6" fill="#ABE9BC"/>
<rect x="215.6" y="325.20" width="2.3" height="4.6" fill="#E78AD2"/>
<rect x="217.6" y="325.20" width="2.8" height="4.6" fill="#E78AD2"/>
<rect x="220.1" y="325.20" width="1.8" height="4.6" fill="#FFD92F"/>
<rect x="221.6" y="325.20" width="2.3" height="4.6" fill="#FFBFC9"/>
<rect x="223.6" y="325.20" width="1.8" height="4.6" fill="#FFD92F"/>
<rect x="225.1" y="325.20" width="2.8" height="4.6" fill="#E5B694"/>
<rect x="227.6" y="325.20" width="1.8" height="4.6" fill="#E78AD2"/>
<rect x="229.1" y="325.20" width="1.8" height="4.6" fill="#B3B3B3"/>
<rect x="230.6" y="325.20" width="2.3" height="4.6" fill="#E5B694"/>
<rect x="80.5" y="325.35" width="4.0" height="4.3" rx="2.1" ry="2.15" fill="#FFD92F"/>
<rect x="97.2" y="325.35" width="4.0" height="4.3" rx="2.1" ry="2.15" fill="#FFBFC9"/>
<rect x="104.2" y="325.35" width="4.0" height="4.3" rx="2.1" ry="2.15" fill="#FFBFC9"/>
<rect x="106.3" y="325.35" width="4.0" height="4.3" rx="2.1" ry="2.15" fill="#4DA741"/>
<rect x="112.5" y="325.35" width="4.0" height="4.3" rx="2.1" ry="2.15" fill="#4DA741"/>
<rect x="132.5" y="325.35" width="4.0" height="4.3" rx="2.1" ry="2.15" fill="#ABE9BC"/>
<rect x="140.0" y="325.35" width="4.0" height="4.3" rx="2.1" ry="2.15" fill="#ABE9BC"/>
<rect x="142.2" y="325.35" width="4.0" height="4.3" rx="2.1" ry="2.15" fill="#1B7D9C"/>
<rect x="152.6" y="325.35" width="4.0" height="4.3" rx="2.1" ry="2.15" fill="#FFBFC9"/>
<rect x="180.8" y="325.35" width="4.0" height="4.3" rx="2.1" ry="2.15" fill="#A6D8E3"/>
<rect x="186.9" y="325.35" width="4.0" height="4.3" rx="2.1" ry="2.15" fill="#A6D8E3"/>
<rect x="193.6" y="325.35" width="4.0" height="4.3" rx="2.1" ry="2.15" fill="#B3B3B3"/>
<rect x="206.4" y="325.35" width="4.0" height="4.3" rx="2.1" ry="2.15" fill="#ABE9BC"/>
<rect x="216.7" y="325.35" width="4.0" height="4.3" rx="2.1" ry="2.15" fill="#B3B3B3"/>
<rect x="219.2" y="325.35" width="4.0" height="4.3" rx="2.1" ry="2.15" fill="#A6D8E3"/>
<rect x="225.3" y="325.35" width="4.0" height="4.3" rx="2.1" ry="2.15" fill="#E78AD2"/>
<circle cx="244.6" cy="327.5" r="2.0" fill="#E78AD2"/>
<circle cx="250.7" cy="327.5" r="2.0" fill="#B3B3B3"/>
<circle cx="256.6" cy="327.5" r="2.0" fill="#B3B3B3"/>
<rect x="83.1" y="325.35" width="15.3" height="4.3" rx="2.1" ry="2.15" fill="#4DA741"/>
<rect x="99.9" y="325.35" width="5.8" height="4.3" rx="2.1" ry="2.15" fill="#4DA741"/>
<rect x="109.3" y="325.35" width="4.1" height="4.3" rx="2.1" ry="2.15" fill="#FFBFC9"/>
<rect x="115.5" y="325.35" width="14.1" height="4.3" rx="2.1" ry="2.15" fill="#FFBFC9"/>
<rect x="128.8" y="325.35" width="5.3" height="4.3" rx="2.1" ry="2.15" fill="#4DA741"/>
<rect x="134.9" y="325.35" width="6.5" height="4.3" rx="2.1" ry="2.15" fill="#FFBFC9"/>
<rect x="145.0" y="325.35" width="5.2" height="4.3" rx="2.1" ry="2.15" fill="#FFBFC9"/>
<rect x="149.4" y="325.35" width="4.2" height="4.3" rx="2.1" ry="2.15" fill="#1B7D9C"/>
<rect x="155.6" y="325.35" width="6.3" height="4.3" rx="2.1" ry="2.15" fill="#ABE9BC"/>
<rect x="161.1" y="325.35" width="4.7" height="4.3" rx="2.1" ry="2.15" fill="#1B7D9C"/>
<rect x="165.0" y="325.35" width="5.8" height="4.3" rx="2.1" ry="2.15" fill="#ABE9BC"/>
<rect x="170.0" y="325.35" width="8.2" height="4.3" rx="2.1" ry="2.15" fill="#A6D8E3"/>
<rect x="177.4" y="325.35" width="4.7" height="4.3" rx="2.1" ry="2.15" fill="#FFBFC9"/>
<rect x="183.6" y="325.35" width="4.6" height="4.3" rx="2.1" ry="2.15" fill="#ABE9BC"/>
<rect x="189.6" y="325.35" width="5.3" height="4.3" rx="2.1" ry="2.15" fill="#ABE9BC"/>
<rect x="196.3" y="325.35" width="8.1" height="4.3" rx="2.1" ry="2.15" fill="#1B7D9C"/>
<rect x="203.6" y="325.35" width="4.1" height="4.3" rx="2.1" ry="2.15" fill="#4DA741"/>
<rect x="209.1" y="325.35" width="4.7" height="4.3" rx="2.1" ry="2.15" fill="#FFBFC9"/>
<rect x="213.0" y="325.35" width="4.7" height="4.3" rx="2.1" ry="2.15" fill="#A6D8E3"/>
<rect x="221.9" y="325.35" width="4.7" height="4.3" rx="2.1" ry="2.15" fill="#ABE9BC"/>
<circle cx="230.4" cy="327.5" r="2.0" fill="#1B7D9C"/>
<circle cx="237.9" cy="327.5" r="2.0" fill="#FFD92F"/>
<circle cx="241.6" cy="327.5" r="2.0" fill="#1B7D9C"/>
<circle cx="247.6" cy="327.5" r="2.0" fill="#FFBFC9"/>
<circle cx="253.5" cy="327.5" r="2.0" fill="#E78AD2"/>
<circle cx="259.6" cy="327.5" r="2.0" fill="#ABE9BC"/>
<circle cx="263.6" cy="327.5" r="2.0" fill="#B3B3B3"/>
<circle cx="267.5" cy="327.5" r="1.9" fill="#E78AD2"/>
<circle cx="262.0" cy="327.5" r="1.9" fill="#B3B3B3"/>
<circle cx="264.5" cy="327.5" r="1.9" fill="#B3B3B3"/>
<circle cx="268.6" cy="327.5" r="1.9" fill="#E78AD2"/>
<circle cx="272.8" cy="327.5" r="1.9" fill="#E5B694"/>
<circle cx="277.3" cy="327.5" r="1.9" fill="#ABE9BC"/>
<circle cx="280.5" cy="327.5" r="1.9" fill="#E5B694"/>
<circle cx="284.6" cy="327.5" r="1.9" fill="#66C296"/>
<circle cx="288.9" cy="327.5" r="1.9" fill="#B3B3B3"/>
<circle cx="293.0" cy="327.5" r="1.9" fill="#B3B3B3"/>
<circle cx="299.6" cy="327.5" r="1.9" fill="#FFD92F"/>
<circle cx="302.4" cy="327.5" r="1.9" fill="#BBD854"/>
<circle cx="307.8" cy="327.5" r="1.9" fill="#E78AD2"/>
<circle cx="311.3" cy="327.5" r="1.9" fill="#FFD92F"/>
<circle cx="315.6" cy="327.5" r="1.9" fill="#66C296"/>
<circle cx="318.8" cy="327.5" r="1.9" fill="#BBD854"/>
<circle cx="340.6" cy="327.5" r="1.9" fill="#E5B694"/>
<circle cx="358.6" cy="327.5" r="1.9" fill="#66C296"/>
<circle cx="419.3" cy="327.5" r="1.9" fill="#A6D8E3"/>
<circle cx="523.5" cy="327.5" r="1.9" fill="#E78AD2"/>
</g>
<g>
<rect x="82.6" y="384.20" width="2.8" height="4.6" fill="#ABE9BC"/>
<rect x="85.1" y="384.20" width="2.8" height="4.6" fill="#FFBFC9"/>
<rect x="87.6" y="384.20" width="1.8" height="4.6" fill="#1B7D9C"/>
<rect x="89.1" y="384.20" width="1.8" height="4.6" fill="#1B7D9C"/>
<rect x="90.6" y="384.20" width="2.3" height="4.6" fill="#FFBFC9"/>
<rect x="92.6" y="384.20" width="2.8" height="4.6" fill="#1B7D9C"/>
<rect x="95.1" y="384.20" width="2.8" height="4.6" fill="#1B7D9C"/>
<rect x="97.6" y="384.20" width="2.3" height="4.6" fill="#ABE9BC"/>
<rect x="99.6" y="384.20" width="2.3" height="4.6" fill="#1B7D9C"/>
<rect x="101.6" y="384.20" width="2.3" height="4.6" fill="#FFBFC9"/>
<rect x="103.6" y="384.20" width="2.8" height="4.6" fill="#1B7D9C"/>
<rect x="106.1" y="384.20" width="2.3" height="4.6" fill="#FFBFC9"/>
<rect x="108.1" y="384.20" width="2.3" height="4.6" fill="#FFBFC9"/>
<rect x="110.1" y="384.20" width="2.3" height="4.6" fill="#1B7D9C"/>
<rect x="112.1" y="384.20" width="1.8" height="4.6" fill="#1B7D9C"/>
<rect x="113.6" y="384.20" width="2.3" height="4.6" fill="#FFBFC9"/>
<rect x="115.6" y="384.20" width="1.8" height="4.6" fill="#1B7D9C"/>
<rect x="117.1" y="384.20" width="1.8" height="4.6" fill="#FFBFC9"/>
<rect x="118.6" y="384.20" width="1.8" height="4.6" fill="#ABE9BC"/>
<rect x="120.1" y="384.20" width="2.3" height="4.6" fill="#FFBFC9"/>
<rect x="122.1" y="384.20" width="2.8" height="4.6" fill="#ABE9BC"/>
<rect x="124.6" y="384.20" width="1.8" height="4.6" fill="#A6D8E3"/>
<rect x="126.1" y="384.20" width="1.8" height="4.6" fill="#1B7D9C"/>
<rect x="127.6" y="384.20" width="2.3" height="4.6" fill="#FFBFC9"/>
<rect x="129.6" y="384.20" width="1.8" height="4.6" fill="#FFBFC9"/>
<rect x="131.1" y="384.20" width="1.8" height="4.6" fill="#1B7D9C"/>
<rect x="132.6" y="384.20" width="2.8" height="4.6" fill="#1B7D9C"/>
<rect x="135.1" y="384.20" width="2.3" height="4.6" fill="#ABE9BC"/>
<rect x="137.1" y="384.20" width="2.8" height="4.6" fill="#FFBFC9"/>
<rect x="139.6" y="384.20" width="2.3" height="4.6" fill="#A6D8E3"/>
<rect x="141.6" y="384.20" width="2.3" height="4.6" fill="#A6D8E3"/>
<rect x="143.6" y="384.20" width="1.8" height="4.6" fill="#A6D8E3"/>
<rect x="145.1" y="384.20" width="1.8" height="4.6" fill="#A6D8E3"/>
<rect x="146.6" y="384.20" width="2.3" height="4.6" fill="#FFBFC9"/>
<rect x="148.6" y="384.20" width="1.8" height="4.6" fill="#1B7D9C"/>
<rect x="150.1" y="384.20" width="2.8" height="4.6" fill="#FFBFC9"/>
<rect x="152.6" y="384.20" width="2.8" height="4.6" fill="#ABE9BC"/>
<rect x="155.1" y="384.20" width="2.3" height="4.6" fill="#A6D8E3"/>
<rect x="157.1" y="384.20" width="1.8" height="4.6" fill="#FFBFC9"/>
<rect x="158.6" y="384.20" width="2.3" height="4.6" fill="#ABE9BC"/>
<rect x="160.6" y="384.20" width="2.3" height="4.6" fill="#FFBFC9"/>
<rect x="162.6" y="384.20" width="2.3" height="4.6" fill="#A6D8E3"/>
<rect x="164.6" y="384.20" width="2.3" height="4.6" fill="#ABE9BC"/>
<rect x="166.6" y="384.20" width="1.8" height="4.6" fill="#E5B694"/>
<rect x="168.1" y="384.20" width="2.8" height="4.6" fill="#B3B3B3"/>
<rect x="170.6" y="384.20" width="1.8" height="4.6" fill="#E5B694"/>
<rect x="172.1" y="384.20" width="2.3" height="4.6" fill="#C5B2D6"/>
<rect x="174.1" y="384.20" width="1.8" height="4.6" fill="#C5B2D6"/>
<rect x="175.6" y="384.20" width="2.3" height="4.6" fill="#A6D8E3"/>
<rect x="177.6" y="384.20" width="2.8" height="4.6" fill="#FFBFC9"/>
<rect x="180.1" y="384.20" width="2.8" height="4.6" fill="#E78AD2"/>
<rect x="182.6" y="384.20" width="2.8" height="4.6" fill="#ABE9BC"/>
<rect x="185.1" y="384.20" width="1.8" height="4.6" fill="#FFBFC9"/>
<rect x="186.6" y="384.20" width="2.3" height="4.6" fill="#B3B3B3"/>
<rect x="188.6" y="384.20" width="2.8" height="4.6" fill="#E5B694"/>
<rect x="191.1" y="384.20" width="2.3" height="4.6" fill="#A6D8E3"/>
<rect x="193.1" y="384.20" width="2.8" height="4.6" fill="#B3B3B3"/>
<rect x="195.6" y="384.20" width="1.8" height="4.6" fill="#FFD92F"/>
<rect x="197.1" y="384.20" width="2.3" height="4.6" fill="#C5B2D6"/>
<rect x="199.1" y="384.20" width="2.3" height="4.6" fill="#E5B694"/>
<rect x="201.1" y="384.20" width="2.3" height="4.6" fill="#E5B694"/>
<rect x="203.1" y="384.20" width="2.3" height="4.6" fill="#E78AD2"/>
<rect x="205.1" y="384.20" width="2.3" height="4.6" fill="#FFD92F"/>
<rect x="207.1" y="384.20" width="2.8" height="4.6" fill="#FFBFC9"/>
<rect x="209.6" y="384.20" width="1.8" height="4.6" fill="#B3B3B3"/>
<rect x="211.1" y="384.20" width="2.8" height="4.6" fill="#B3B3B3"/>
<rect x="213.6" y="384.20" width="1.8" height="4.6" fill="#E78AD2"/>
<rect x="215.1" y="384.20" width="2.8" height="4.6" fill="#FFD92F"/>
<rect x="217.6" y="384.20" width="2.8" height="4.6" fill="#E78AD2"/>
<rect x="220.1" y="384.20" width="2.3" height="4.6" fill="#C5B2D6"/>
<rect x="222.1" y="384.20" width="2.3" height="4.6" fill="#FFBFC9"/>
<rect x="224.1" y="384.20" width="1.8" height="4.6" fill="#E78AD2"/>
<rect x="225.6" y="384.20" width="1.8" height="4.6" fill="#ABE9BC"/>
<rect x="227.1" y="384.20" width="1.8" height="4.6" fill="#C5B2D6"/>
<rect x="228.6" y="384.20" width="2.8" height="4.6" fill="#ABE9BC"/>
<rect x="231.1" y="384.20" width="2.3" height="4.6" fill="#E78AD2"/>
<rect x="80.4" y="384.35" width="4.0" height="4.3" rx="2.1" ry="2.15" fill="#E5B694"/>
<rect x="81.8" y="384.35" width="4.0" height="4.3" rx="2.1" ry="2.15" fill="#1B7D9C"/>
<rect x="113.6" y="384.35" width="4.0" height="4.3" rx="2.1" ry="2.15" fill="#1B7D9C"/>
<rect x="152.3" y="384.35" width="4.0" height="4.3" rx="2.1" ry="2.15" fill="#ABE9BC"/>
<rect x="225.6" y="384.35" width="4.0" height="4.3" rx="2.1" ry="2.15" fill="#E78AD2"/>
<circle cx="229.8" cy="386.5" r="2.0" fill="#FFD92F"/>
<circle cx="231.8" cy="386.5" r="2.0" fill="#B3B3B3"/>
<circle cx="246.8" cy="386.5" r="2.0" fill="#E78AD2"/>
<rect x="84.3" y="384.35" width="15.8" height="4.3" rx="2.1" ry="2.15" fill="#4DA741"/>
<rect x="99.3" y="384.35" width="4.7" height="4.3" rx="2.1" ry="2.15" fill="#FFBFC9"/>
<rect x="103.2" y="384.35" width="4.7" height="4.3" rx="2.1" ry="2.15" fill="#4DA741"/>
<rect x="107.1" y="384.35" width="7.5" height="4.3" rx="2.1" ry="2.15" fill="#FFBFC9"/>
<rect x="116.6" y="384.35" width="4.7" height="4.3" rx="2.1" ry="2.15" fill="#FFBFC9"/>
<rect x="120.5" y="384.35" width="5.8" height="4.3" rx="2.1" ry="2.15" fill="#1B7D9C"/>
<rect x="125.5" y="384.35" width="4.1" height="4.3" rx="2.1" ry="2.15" fill="#4DA741"/>
<rect x="128.8" y="384.35" width="5.3" height="4.3" rx="2.1" ry="2.15" fill="#FFBFC9"/>
<rect x="133.3" y="384.35" width="4.7" height="4.3" rx="2.1" ry="2.15" fill="#1B7D9C"/>
<rect x="137.2" y="384.35" width="4.7" height="4.3" rx="2.1" ry="2.15" fill="#4DA741"/>
<rect x="141.1" y="384.35" width="4.1" height="4.3" rx="2.1" ry="2.15" fill="#1B7D9C"/>
<rect x="144.4" y="384.35" width="4.2" height="4.3" rx="2.1" ry="2.15" fill="#FFBFC9"/>
<rect x="147.8" y="384.35" width="5.8" height="4.3" rx="2.1" ry="2.15" fill="#1B7D9C"/>
<rect x="155.0" y="384.35" width="4.7" height="4.3" rx="2.1" ry="2.15" fill="#FFBFC9"/>
<rect x="158.9" y="384.35" width="5.8" height="4.3" rx="2.1" ry="2.15" fill="#ABE9BC"/>
<rect x="163.9" y="384.35" width="4.7" height="4.3" rx="2.1" ry="2.15" fill="#FFBFC9"/>
<rect x="167.8" y="384.35" width="7.1" height="4.3" rx="2.1" ry="2.15" fill="#1B7D9C"/>
<rect x="174.1" y="384.35" width="5.8" height="4.3" rx="2.1" ry="2.15" fill="#FFBFC9"/>
<rect x="180.2" y="384.35" width="8.0" height="4.3" rx="2.1" ry="2.15" fill="#1B7D9C"/>
<rect x="188.8" y="384.35" width="6.1" height="4.3" rx="2.1" ry="2.15" fill="#1B7D9C"/>
<rect x="194.6" y="384.35" width="5.3" height="4.3" rx="2.1" ry="2.15" fill="#FFBFC9"/>
<rect x="199.6" y="384.35" width="8.1" height="4.3" rx="2.1" ry="2.15" fill="#ABE9BC"/>
<rect x="206.9" y="384.35" width="4.7" height="4.3" rx="2.1" ry="2.15" fill="#B3B3B3"/>
<rect x="210.8" y="384.35" width="4.1" height="4.3" rx="2.1" ry="2.15" fill="#A6D8E3"/>
<rect x="214.1" y="384.35" width="4.2" height="4.3" rx="2.1" ry="2.15" fill="#ABE9BC"/>
<rect x="217.5" y="384.35" width="4.7" height="4.3" rx="2.1" ry="2.15" fill="#A6D8E3"/>
<rect x="221.4" y="384.35" width="5.2" height="4.3" rx="2.1" ry="2.15" fill="#B3B3B3"/>
<circle cx="234.9" cy="386.5" r="2.0" fill="#1B7D9C"/>
<circle cx="239.1" cy="386.5" r="2.0" fill="#B3B3B3"/>
<circle cx="243.5" cy="386.5" r="2.0" fill="#ABE9BC"/>
<circle cx="249.7" cy="386.5" r="2.0" fill="#ABE9BC"/>
<circle cx="252.8" cy="386.5" r="2.0" fill="#E78AD2"/>
<circle cx="258.5" cy="386.5" r="1.9" fill="#BBD854"/>
<circle cx="264.5" cy="386.5" r="1.9" fill="#E5B694"/>
<circle cx="270.7" cy="386.5" r="1.9" fill="#A6D8E3"/>
<circle cx="275.1" cy="386.5" r="1.9" fill="#E78AD2"/>
<circle cx="281.2" cy="386.5" r="1.9" fill="#B3B3B3"/>
<circle cx="284.0" cy="386.5" r="1.9" fill="#B3B3B3"/>
<circle cx="295.2" cy="386.5" r="1.9" fill="#FFD92F"/>
<circle cx="297.9" cy="386.5" r="1.9" fill="#E5B694"/>
<circle cx="300.8" cy="386.5" r="1.9" fill="#ABE9BC"/>
<circle cx="310.8" cy="386.5" r="1.9" fill="#E5B694"/>
<circle cx="314.6" cy="386.5" r="1.9" fill="#FFD92F"/>
<circle cx="318.4" cy="386.5" r="1.9" fill="#B3B3B3"/>
<circle cx="332.4" cy="386.5" r="1.9" fill="#B3B3B3"/>
<circle cx="334.6" cy="386.5" r="1.9" fill="#E5B694"/>
<circle cx="341.5" cy="386.5" r="1.9" fill="#ABE9BC"/>
<circle cx="344.2" cy="386.5" r="1.9" fill="#FC7362"/>
<circle cx="346.9" cy="386.5" r="1.9" fill="#E5B694"/>
<circle cx="356.4" cy="386.5" r="1.9" fill="#1B7D9C"/>
<circle cx="378.7" cy="386.5" r="1.9" fill="#E5B694"/>
<circle cx="404.5" cy="386.5" r="1.9" fill="#66C296"/>
<circle cx="421.5" cy="386.5" r="1.9" fill="#66C296"/>
<circle cx="442.6" cy="386.5" r="1.9" fill="#BBD854"/>
</g>
<g>
<rect x="82.6" y="443.20" width="2.3" height="4.6" fill="#ABE9BC"/>
<rect x="84.6" y="443.20" width="2.8" height="4.6" fill="#1B7D9C"/>
<rect x="87.1" y="443.20" width="1.8" height="4.6" fill="#FFBFC9"/>
<rect x="88.6" y="443.20" width="2.3" height="4.6" fill="#FFBFC9"/>
<rect x="90.6" y="443.20" width="2.8" height="4.6" fill="#1B7D9C"/>
<rect x="93.1" y="443.20" width="2.3" height="4.6" fill="#ABE9BC"/>
<rect x="95.1" y="443.20" width="2.3" height="4.6" fill="#FFBFC9"/>
<rect x="97.1" y="443.20" width="2.3" height="4.6" fill="#ABE9BC"/>
<rect x="99.1" y="443.20" width="2.8" height="4.6" fill="#A6D8E3"/>
<rect x="101.6" y="443.20" width="1.8" height="4.6" fill="#1B7D9C"/>
<rect x="103.1" y="443.20" width="1.8" height="4.6" fill="#ABE9BC"/>
<rect x="104.6" y="443.20" width="1.8" height="4.6" fill="#FFBFC9"/>
<rect x="106.1" y="443.20" width="2.3" height="4.6" fill="#1B7D9C"/>
<rect x="108.1" y="443.20" width="2.3" height="4.6" fill="#ABE9BC"/>
<rect x="110.1" y="443.20" width="1.8" height="4.6" fill="#FFBFC9"/>
<rect x="111.6" y="443.20" width="1.8" height="4.6" fill="#FFBFC9"/>
<rect x="113.1" y="443.20" width="2.8" height="4.6" fill="#1B7D9C"/>
<rect x="115.6" y="443.20" width="2.8" height="4.6" fill="#1B7D9C"/>
<rect x="118.1" y="443.20" width="1.8" height="4.6" fill="#FFBFC9"/>
<rect x="119.6" y="443.20" width="2.3" height="4.6" fill="#1B7D9C"/>
<rect x="121.6" y="443.20" width="2.3" height="4.6" fill="#1B7D9C"/>
<rect x="123.6" y="443.20" width="1.8" height="4.6" fill="#1B7D9C"/>
<rect x="125.1" y="443.20" width="1.8" height="4.6" fill="#FFBFC9"/>
<rect x="126.6" y="443.20" width="2.8" height="4.6" fill="#FFBFC9"/>
<rect x="129.1" y="443.20" width="2.8" height="4.6" fill="#1B7D9C"/>
<rect x="131.6" y="443.20" width="1.8" height="4.6" fill="#FFBFC9"/>
<rect x="133.1" y="443.20" width="1.8" height="4.6" fill="#FFBFC9"/>
<rect x="134.6" y="443.20" width="1.8" height="4.6" fill="#FFBFC9"/>
<rect x="136.1" y="443.20" width="2.8" height="4.6" fill="#ABE9BC"/>
<rect x="138.6" y="443.20" width="1.8" height="4.6" fill="#ABE9BC"/>
<rect x="140.1" y="443.20" width="2.8" height="4.6" fill="#FFBFC9"/>
<rect x="142.6" y="443.20" width="2.8" height="4.6" fill="#FFBFC9"/>
<rect x="145.1" y="443.20" width="1.8" height="4.6" fill="#FFBFC9"/>
<rect x="146.6" y="443.20" width="2.3" height="4.6" fill="#1B7D9C"/>
<rect x="148.6" y="443.20" width="2.3" height="4.6" fill="#ABE9BC"/>
<rect x="150.6" y="443.20" width="1.8" height="4.6" fill="#FFBFC9"/>
<rect x="152.1" y="443.20" width="1.8" height="4.6" fill="#ABE9BC"/>
<rect x="153.6" y="443.20" width="2.3" height="4.6" fill="#ABE9BC"/>
<rect x="155.6" y="443.20" width="2.3" height="4.6" fill="#1B7D9C"/>
<rect x="157.6" y="443.20" width="2.3" height="4.6" fill="#E78AD2"/>
<rect x="159.6" y="443.20" width="2.8" height="4.6" fill="#E78AD2"/>
<rect x="162.1" y="443.20" width="1.8" height="4.6" fill="#FFBFC9"/>
<rect x="163.6" y="443.20" width="2.8" height="4.6" fill="#E5B694"/>
<rect x="166.1" y="443.20" width="1.8" height="4.6" fill="#A6D8E3"/>
<rect x="167.6" y="443.20" width="1.8" height="4.6" fill="#FFD92F"/>
<rect x="169.1" y="443.20" width="2.8" height="4.6" fill="#FFBFC9"/>
<rect x="171.6" y="443.20" width="1.8" height="4.6" fill="#E5B694"/>
<rect x="173.1" y="443.20" width="1.8" height="4.6" fill="#FFBFC9"/>
<rect x="174.6" y="443.20" width="2.3" height="4.6" fill="#E78AD2"/>
<rect x="176.6" y="443.20" width="2.3" height="4.6" fill="#A6D8E3"/>
<rect x="178.6" y="443.20" width="2.8" height="4.6" fill="#C5B2D6"/>
<rect x="181.1" y="443.20" width="2.8" height="4.6" fill="#FFBFC9"/>
<rect x="183.6" y="443.20" width="2.3" height="4.6" fill="#FFBFC9"/>
<rect x="185.6" y="443.20" width="1.8" height="4.6" fill="#A6D8E3"/>
<rect x="187.1" y="443.20" width="2.3" height="4.6" fill="#ABE9BC"/>
<rect x="189.1" y="443.20" width="1.8" height="4.6" fill="#FFD92F"/>
<rect x="190.6" y="443.20" width="1.8" height="4.6" fill="#E5B694"/>
<rect x="192.1" y="443.20" width="1.8" height="4.6" fill="#E78AD2"/>
<rect x="193.6" y="443.20" width="2.3" height="4.6" fill="#E78AD2"/>
<rect x="195.6" y="443.20" width="2.3" height="4.6" fill="#E5B694"/>
<rect x="197.6" y="443.20" width="1.8" height="4.6" fill="#FFD92F"/>
<rect x="199.1" y="443.20" width="2.8" height="4.6" fill="#B3B3B3"/>
<rect x="201.6" y="443.20" width="1.8" height="4.6" fill="#FFD92F"/>
<rect x="203.1" y="443.20" width="2.3" height="4.6" fill="#A6D8E3"/>
<rect x="205.1" y="443.20" width="2.8" height="4.6" fill="#B3B3B3"/>
<rect x="207.6" y="443.20" width="2.3" height="4.6" fill="#A6D8E3"/>
<rect x="209.6" y="443.20" width="1.8" height="4.6" fill="#A6D8E3"/>
<rect x="211.1" y="443.20" width="2.8" height="4.6" fill="#B3B3B3"/>
<rect x="213.6" y="443.20" width="2.3" height="4.6" fill="#A6D8E3"/>
<rect x="215.6" y="443.20" width="2.8" height="4.6" fill="#A6D8E3"/>
<rect x="218.1" y="443.20" width="1.8" height="4.6" fill="#FFBFC9"/>
<rect x="219.6" y="443.20" width="2.3" height="4.6" fill="#C5B2D6"/>
<rect x="221.6" y="443.20" width="2.8" height="4.6" fill="#ABE9BC"/>
<rect x="224.1" y="443.20" width="1.8" height="4.6" fill="#B3B3B3"/>
<rect x="225.6" y="443.20" width="2.3" height="4.6" fill="#E78AD2"/>
<rect x="227.6" y="443.20" width="1.8" height="4.6" fill="#FFD92F"/>
<rect x="229.1" y="443.20" width="1.8" height="4.6" fill="#E5B694"/>
<rect x="230.6" y="443.20" width="2.8" height="4.6" fill="#FFBFC9"/>
<rect x="100.8" y="443.35" width="4.0" height="4.3" rx="2.1" ry="2.15" fill="#FFBFC9"/>
<rect x="120.3" y="443.35" width="4.0" height="4.3" rx="2.1" ry="2.15" fill="#FFBFC9"/>
<rect x="122.5" y="443.35" width="4.0" height="4.3" rx="2.1" ry="2.15" fill="#ABE9BC"/>
<rect x="135.6" y="443.35" width="4.0" height="4.3" rx="2.1" ry="2.15" fill="#ABE9BC"/>
<rect x="166.4" y="443.35" width="4.0" height="4.3" rx="2.1" ry="2.15" fill="#ABE9BC"/>
<rect x="184.4" y="443.35" width="4.0" height="4.3" rx="2.1" ry="2.15" fill="#ABE9BC"/>
<rect x="194.4" y="443.35" width="4.0" height="4.3" rx="2.1" ry="2.15" fill="#ABE9BC"/>
<rect x="200.0" y="443.35" width="4.0" height="4.3" rx="2.1" ry="2.15" fill="#A6D8E3"/>
<rect x="206.4" y="443.35" width="4.0" height="4.3" rx="2.1" ry="2.15" fill="#C5B2D6"/>
<rect x="212.2" y="443.35" width="4.0" height="4.3" rx="2.1" ry="2.15" fill="#C5B2D6"/>
<circle cx="230.9" cy="445.5" r="2.0" fill="#A6D8E3"/>
<circle cx="242.2" cy="445.5" r="2.0" fill="#FC7362"/>
<circle cx="243.3" cy="445.5" r="2.0" fill="#E5B694"/>
<circle cx="258.2" cy="445.5" r="2.0" fill="#E78AD2"/>
<rect x="81.5" y="443.35" width="4.7" height="4.3" rx="2.1" ry="2.15" fill="#FFBFC9"/>
<rect x="85.4" y="443.35" width="9.7" height="4.3" rx="2.1" ry="2.15" fill="#4DA741"/>
<rect x="94.3" y="443.35" width="4.1" height="4.3" rx="2.1" ry="2.15" fill="#FFBFC9"/>
<rect x="97.6" y="443.35" width="4.2" height="4.3" rx="2.1" ry="2.15" fill="#4DA741"/>
<rect x="103.8" y="443.35" width="4.1" height="4.3" rx="2.1" ry="2.15" fill="#4DA741"/>
<rect x="107.1" y="443.35" width="9.2" height="4.3" rx="2.1" ry="2.15" fill="#FFBFC9"/>
<rect x="115.5" y="443.35" width="5.8" height="4.3" rx="2.1" ry="2.15" fill="#1B7D9C"/>
<rect x="124.9" y="443.35" width="6.4" height="4.3" rx="2.1" ry="2.15" fill="#FFBFC9"/>
<rect x="130.5" y="443.35" width="6.4" height="4.3" rx="2.1" ry="2.15" fill="#1B7D9C"/>
<rect x="138.3" y="443.35" width="8.1" height="4.3" rx="2.1" ry="2.15" fill="#1B7D9C"/>
<rect x="145.6" y="443.35" width="5.2" height="4.3" rx="2.1" ry="2.15" fill="#ABE9BC"/>
<rect x="150.0" y="443.35" width="4.7" height="4.3" rx="2.1" ry="2.15" fill="#FFBFC9"/>
<rect x="153.9" y="443.35" width="4.7" height="4.3" rx="2.1" ry="2.15" fill="#1B7D9C"/>
<rect x="157.8" y="443.35" width="6.3" height="4.3" rx="2.1" ry="2.15" fill="#ABE9BC"/>
<rect x="163.3" y="443.35" width="4.7" height="4.3" rx="2.1" ry="2.15" fill="#1B7D9C"/>
<rect x="168.9" y="443.35" width="4.3" height="4.3" rx="2.1" ry="2.15" fill="#A6D8E3"/>
<rect x="172.4" y="443.35" width="4.0" height="4.3" rx="2.1" ry="2.15" fill="#FFBFC9"/>
<rect x="175.6" y="443.35" width="5.8" height="4.3" rx="2.1" ry="2.15" fill="#ABE9BC"/>
<rect x="180.6" y="443.35" width="4.8" height="4.3" rx="2.1" ry="2.15" fill="#FFBFC9"/>
<rect x="187.4" y="443.35" width="4.7" height="4.3" rx="2.1" ry="2.15" fill="#1B7D9C"/>
<rect x="191.3" y="443.35" width="4.7" height="4.3" rx="2.1" ry="2.15" fill="#FFBFC9"/>
<rect x="196.9" y="443.35" width="4.1" height="4.3" rx="2.1" ry="2.15" fill="#B3B3B3"/>
<rect x="203.0" y="443.35" width="4.7" height="4.3" rx="2.1" ry="2.15" fill="#1B7D9C"/>
<rect x="209.1" y="443.35" width="4.7" height="4.3" rx="2.1" ry="2.15" fill="#1B7D9C"/>
<rect x="214.6" y="443.35" width="4.2" height="4.3" rx="2.1" ry="2.15" fill="#E78AD2"/>
<rect x="218.0" y="443.35" width="4.7" height="4.3" rx="2.1" ry="2.15" fill="#1B7D9C"/>
<rect x="223.6" y="443.35" width="6.8" height="4.3" rx="2.1" ry="2.15" fill="#B3B3B3"/>
<circle cx="233.4" cy="445.5" r="2.0" fill="#FFBFC9"/>
<circle cx="236.9" cy="445.5" r="2.0" fill="#A6D8E3"/>
<circle cx="238.8" cy="445.5" r="2.0" fill="#A6D8E3"/>
<circle cx="245.9" cy="445.5" r="2.0" fill="#E78AD2"/>
<circle cx="248.2" cy="445.5" r="2.0" fill="#E78AD2"/>
<circle cx="250.5" cy="445.5" r="2.0" fill="#E78AD2"/>
<circle cx="254.9" cy="445.5" r="2.0" fill="#B3B3B3"/>
<circle cx="261.3" cy="445.5" r="2.0" fill="#E5B694"/>
<circle cx="261.0" cy="445.5" r="1.9" fill="#E5B694"/>
<circle cx="271.0" cy="445.5" r="1.9" fill="#FFD92F"/>
<circle cx="269.4" cy="445.5" r="1.9" fill="#1B7D9C"/>
<circle cx="283.4" cy="445.5" r="1.9" fill="#A6D8E3"/>
<circle cx="291.8" cy="445.5" r="1.9" fill="#FFD92F"/>
<circle cx="289.0" cy="445.5" r="1.9" fill="#ABE9BC"/>
<circle cx="298.5" cy="445.5" r="1.9" fill="#A6D8E3"/>
<circle cx="304.5" cy="445.5" r="1.9" fill="#66C296"/>
<circle cx="315.2" cy="445.5" r="1.9" fill="#A6D8E3"/>
<circle cx="321.5" cy="445.5" r="1.9" fill="#E5B694"/>
<circle cx="331.5" cy="445.5" r="1.9" fill="#E5B694"/>
<circle cx="334.6" cy="445.5" r="1.9" fill="#66C296"/>
<circle cx="369.4" cy="445.5" r="1.9" fill="#E78AD2"/>
<circle cx="373.6" cy="445.5" r="1.9" fill="#E5B694"/>
<circle cx="385.6" cy="445.5" r="1.9" fill="#B3B3B3"/>
<circle cx="442.5" cy="445.5" r="1.9" fill="#E78AD2"/>
<circle cx="525.6" cy="445.5" r="1.9" fill="#FC7362"/>
</g>
<g>
<rect x="82.6" y="502.20" width="2.3" height="4.6" fill="#A6D8E3"/>
<rect x="84.6" y="502.20" width="2.3" height="4.6" fill="#FFBFC9"/>
<rect x="86.6" y="502.20" width="1.8" height="4.6" fill="#FFBFC9"/>
<rect x="88.1" y="502.20" width="1.8" height="4.6" fill="#ABE9BC"/>
<rect x="89.6" y="502.20" width="1.8" height="4.6" fill="#A6D8E3"/>
<rect x="91.1" y="502.20" width="2.3" height="4.6" fill="#FFBFC9"/>
<rect x="93.1" y="502.20" width="2.8" height="4.6" fill="#1B7D9C"/>
<rect x="95.6" y="502.20" width="2.3" height="4.6" fill="#A6D8E3"/>
<rect x="97.6" y="502.20" width="2.3" height="4.6" fill="#FFBFC9"/>
<rect x="99.6" y="502.20" width="1.8" height="4.6" fill="#FFBFC9"/>
<rect x="101.1" y="502.20" width="2.8" height="4.6" fill="#1B7D9C"/>
<rect x="103.6" y="502.20" width="1.8" height="4.6" fill="#A6D8E3"/>
<rect x="105.1" y="502.20" width="2.8" height="4.6" fill="#1B7D9C"/>
<rect x="107.6" y="502.20" width="1.8" height="4.6" fill="#A6D8E3"/>
<rect x="109.1" y="502.20" width="2.3" height="4.6" fill="#1B7D9C"/>
<rect x="111.1" y="502.20" width="1.8" height="4.6" fill="#FFBFC9"/>
<rect x="112.6" y="502.20" width="1.8" height="4.6" fill="#FFBFC9"/>
<rect x="114.1" y="502.20" width="1.8" height="4.6" fill="#FFBFC9"/>
<rect x="115.6" y="502.20" width="1.8" height="4.6" fill="#1B7D9C"/>
<rect x="117.1" y="502.20" width="1.8" height="4.6" fill="#FFBFC9"/>
<rect x="118.6" y="502.20" width="2.3" height="4.6" fill="#1B7D9C"/>
<rect x="120.6" y="502.20" width="2.8" height="4.6" fill="#FFBFC9"/>
<rect x="123.1" y="502.20" width="2.8" height="4.6" fill="#A6D8E3"/>
<rect x="125.6" y="502.20" width="2.3" height="4.6" fill="#ABE9BC"/>
<rect x="127.6" y="502.20" width="2.3" height="4.6" fill="#FFBFC9"/>
<rect x="129.6" y="502.20" width="2.3" height="4.6" fill="#A6D8E3"/>
<rect x="131.6" y="502.20" width="2.3" height="4.6" fill="#ABE9BC"/>
<rect x="133.6" y="502.20" width="1.8" height="4.6" fill="#FFBFC9"/>
<rect x="135.1" y="502.20" width="1.8" height="4.6" fill="#1B7D9C"/>
<rect x="136.6" y="502.20" width="1.8" height="4.6" fill="#1B7D9C"/>
<rect x="138.1" y="502.20" width="2.8" height="4.6" fill="#1B7D9C"/>
<rect x="140.6" y="502.20" width="2.3" height="4.6" fill="#ABE9BC"/>
<rect x="142.6" y="502.20" width="2.3" height="4.6" fill="#1B7D9C"/>
<rect x="144.6" y="502.20" width="1.8" height="4.6" fill="#1B7D9C"/>
<rect x="146.1" y="502.20" width="1.8" height="4.6" fill="#FFBFC9"/>
<rect x="147.6" y="502.20" width="2.8" height="4.6" fill="#ABE9BC"/>
<rect x="150.1" y="502.20" width="2.8" height="4.6" fill="#FFBFC9"/>
<rect x="152.6" y="502.20" width="2.8" height="4.6" fill="#1B7D9C"/>
<rect x="155.1" y="502.20" width="2.3" height="4.6" fill="#A6D8E3"/>
<rect x="157.1" y="502.20" width="2.3" height="4.6" fill="#A6D8E3"/>
<rect x="159.1" y="502.20" width="2.8" height="4.6" fill="#ABE9BC"/>
<rect x="161.6" y="502.20" width="2.8" height="4.6" fill="#E78AD2"/>
<rect x="164.1" y="502.20" width="2.3" height="4.6" fill="#B3B3B3"/>
<rect x="166.1" y="502.20" width="1.8" height="4.6" fill="#FFBFC9"/>
<rect x="167.6" y="502.20" width="1.8" height="4.6" fill="#A6D8E3"/>
<rect x="169.1" y="502.20" width="2.3" height="4.6" fill="#C5B2D6"/>
<rect x="171.1" y="502.20" width="1.8" height="4.6" fill="#FFBFC9"/>
<rect x="172.6" y="502.20" width="1.8" height="4.6" fill="#ABE9BC"/>
<rect x="174.1" y="502.20" width="2.3" height="4.6" fill="#ABE9BC"/>
<rect x="176.1" y="502.20" width="1.8" height="4.6" fill="#ABE9BC"/>
<rect x="177.6" y="502.20" width="2.3" height="4.6" fill="#FFD92F"/>
<rect x="179.6" y="502.20" width="2.8" height="4.6" fill="#FFD92F"/>
<rect x="182.1" y="502.20" width="1.8" height="4.6" fill="#E78AD2"/>
<rect x="183.6" y="502.20" width="1.8" height="4.6" fill="#FFBFC9"/>
<rect x="185.1" y="502.20" width="2.3" height="4.6" fill="#E78AD2"/>
<rect x="187.1" y="502.20" width="2.8" height="4.6" fill="#ABE9BC"/>
<rect x="189.6" y="502.20" width="2.3" height="4.6" fill="#E5B694"/>
<rect x="191.6" y="502.20" width="2.3" height="4.6" fill="#E5B694"/>
<rect x="193.6" y="502.20" width="2.3" height="4.6" fill="#E5B694"/>
<rect x="195.6" y="502.20" width="2.8" height="4.6" fill="#E5B694"/>
<rect x="198.1" y="502.20" width="1.8" height="4.6" fill="#FFD92F"/>
<rect x="199.6" y="502.20" width="1.8" height="4.6" fill="#B3B3B3"/>
<rect x="201.1" y="502.20" width="1.8" height="4.6" fill="#E78AD2"/>
<rect x="202.6" y="502.20" width="1.8" height="4.6" fill="#E5B694"/>
<rect x="204.1" y="502.20" width="2.8" height="4.6" fill="#E78AD2"/>
<rect x="206.6" y="502.20" width="2.3" height="4.6" fill="#ABE9BC"/>
<rect x="208.6" y="502.20" width="2.3" height="4.6" fill="#E5B694"/>
<rect x="210.6" y="502.20" width="1.8" height="4.6" fill="#E78AD2"/>
<rect x="212.1" y="502.20" width="2.8" height="4.6" fill="#ABE9BC"/>
<rect x="214.6" y="502.20" width="2.8" height="4.6" fill="#FFD92F"/>
<rect x="217.1" y="502.20" width="1.8" height="4.6" fill="#ABE9BC"/>
<rect x="218.6" y="502.20" width="1.8" height="4.6" fill="#FFD92F"/>
<rect x="220.1" y="502.20" width="1.8" height="4.6" fill="#FFD92F"/>
<rect x="221.6" y="502.20" width="2.3" height="4.6" fill="#A6D8E3"/>
<rect x="223.6" y="502.20" width="2.3" height="4.6" fill="#E78AD2"/>
<rect x="225.6" y="502.20" width="1.8" height="4.6" fill="#A6D8E3"/>
<rect x="227.1" y="502.20" width="1.8" height="4.6" fill="#E78AD2"/>
<rect x="228.6" y="502.20" width="1.8" height="4.6" fill="#C5B2D6"/>
<rect x="230.1" y="502.20" width="2.8" height="4.6" fill="#B3B3B3"/>
<rect x="104.0" y="502.35" width="4.0" height="4.3" rx="2.1" ry="2.15" fill="#FFBFC9"/>
<rect x="117.8" y="502.35" width="4.0" height="4.3" rx="2.1" ry="2.15" fill="#1B7D9C"/>
<rect x="120.0" y="502.35" width="4.0" height="4.3" rx="2.1" ry="2.15" fill="#FFBFC9"/>
<rect x="130.3" y="502.35" width="4.0" height="4.3" rx="2.1" ry="2.15" fill="#1B7D9C"/>
<rect x="132.5" y="502.35" width="4.0" height="4.3" rx="2.1" ry="2.15" fill="#ABE9BC"/>
<rect x="197.7" y="502.35" width="4.0" height="4.3" rx="2.1" ry="2.15" fill="#ABE9BC"/>
<circle cx="256.4" cy="504.5" r="2.0" fill="#E78AD2"/>
<circle cx="258.1" cy="504.5" r="2.0" fill="#66C296"/>
<rect x="81.5" y="502.35" width="6.9" height="4.3" rx="2.1" ry="2.15" fill="#FFBFC9"/>
<rect x="87.6" y="502.35" width="8.6" height="4.3" rx="2.1" ry="2.15" fill="#4DA741"/>
<rect x="95.4" y="502.35" width="4.2" height="4.3" rx="2.1" ry="2.15" fill="#FFBFC9"/>
<rect x="98.8" y="502.35" width="6.3" height="4.3" rx="2.1" ry="2.15" fill="#4DA741"/>
<rect x="106.8" y="502.35" width="4.0" height="4.3" rx="2.1" ry="2.15" fill="#4DA741"/>
<rect x="109.9" y="502.35" width="9.1" height="4.3" rx="2.1" ry="2.15" fill="#FFBFC9"/>
<rect x="122.6" y="502.35" width="4.2" height="4.3" rx="2.1" ry="2.15" fill="#4DA741"/>
<rect x="126.0" y="502.35" width="5.3" height="4.3" rx="2.1" ry="2.15" fill="#FFBFC9"/>
<rect x="134.9" y="502.35" width="17.0" height="4.3" rx="2.1" ry="2.15" fill="#1B7D9C"/>
<rect x="151.1" y="502.35" width="5.3" height="4.3" rx="2.1" ry="2.15" fill="#ABE9BC"/>
<rect x="155.6" y="502.35" width="4.1" height="4.3" rx="2.1" ry="2.15" fill="#FFBFC9"/>
<rect x="158.9" y="502.35" width="7.5" height="4.3" rx="2.1" ry="2.15" fill="#ABE9BC"/>
<rect x="165.6" y="502.35" width="7.6" height="4.3" rx="2.1" ry="2.15" fill="#FFBFC9"/>
<rect x="172.4" y="502.35" width="4.0" height="4.3" rx="2.1" ry="2.15" fill="#1B7D9C"/>
<rect x="175.5" y="502.35" width="4.0" height="4.3" rx="2.1" ry="2.15" fill="#A6D8E3"/>
<rect x="178.6" y="502.35" width="8.5" height="4.3" rx="2.1" ry="2.15" fill="#ABE9BC"/>
<rect x="186.3" y="502.35" width="4.7" height="4.3" rx="2.1" ry="2.15" fill="#1B7D9C"/>
<rect x="190.6" y="502.35" width="8.2" height="4.3" rx="2.1" ry="2.15" fill="#FFBFC9"/>
<rect x="200.6" y="502.35" width="5.4" height="4.3" rx="2.1" ry="2.15" fill="#FFBFC9"/>
<rect x="205.2" y="502.35" width="4.7" height="4.3" rx="2.1" ry="2.15" fill="#B3B3B3"/>
<rect x="209.1" y="502.35" width="4.2" height="4.3" rx="2.1" ry="2.15" fill="#A6D8E3"/>
<rect x="212.5" y="502.35" width="4.7" height="4.3" rx="2.1" ry="2.15" fill="#ABE9BC"/>
<rect x="216.4" y="502.35" width="5.2" height="4.3" rx="2.1" ry="2.15" fill="#B3B3B3"/>
<rect x="220.8" y="502.35" width="4.2" height="4.3" rx="2.1" ry="2.15" fill="#E78AD2"/>
<rect x="226.4" y="502.35" width="4.7" height="4.3" rx="2.1" ry="2.15" fill="#B3B3B3"/>
<circle cx="233.7" cy="504.5" r="2.0" fill="#B3B3B3"/>
<circle cx="236.1" cy="504.5" r="2.0" fill="#B3B3B3"/>
<circle cx="239.7" cy="504.5" r="2.0" fill="#A6D8E3"/>
<circle cx="243.5" cy="504.5" r="2.0" fill="#ABE9BC"/>
<circle cx="247.6" cy="504.5" r="2.0" fill="#A6D8E3"/>
<circle cx="253.8" cy="504.5" r="2.0" fill="#ABE9BC"/>
<circle cx="265.8" cy="504.5" r="1.9" fill="#E5B694"/>
<circle cx="268.5" cy="504.5" r="1.9" fill="#E78AD2"/>
<circle cx="280.5" cy="504.5" r="1.9" fill="#E78AD2"/>
<circle cx="284.5" cy="504.5" r="1.9" fill="#E5B694"/>
<circle cx="298.3" cy="504.5" r="1.9" fill="#A6D8E3"/>
<circle cx="300.5" cy="504.5" r="1.9" fill="#ABE9BC"/>
<circle cx="302.3" cy="504.5" r="1.9" fill="#66C296"/>
<circle cx="317.7" cy="504.5" r="1.9" fill="#1B7D9C"/>
<circle cx="320.8" cy="504.5" r="1.9" fill="#B3B3B3"/>
<circle cx="350.4" cy="504.5" r="1.9" fill="#66C296"/>
<circle cx="360.7" cy="504.5" r="1.9" fill="#ABE9BC"/>
<circle cx="375.4" cy="504.5" r="1.9" fill="#BBD854"/>
<circle cx="380.5" cy="504.5" r="1.9" fill="#B3B3B3"/>
<circle cx="412.3" cy="504.5" r="1.9" fill="#E5B694"/>
<circle cx="416.8" cy="504.5" r="1.9" fill="#B3B3B3"/>
</g>
</svg>
</body></html>
